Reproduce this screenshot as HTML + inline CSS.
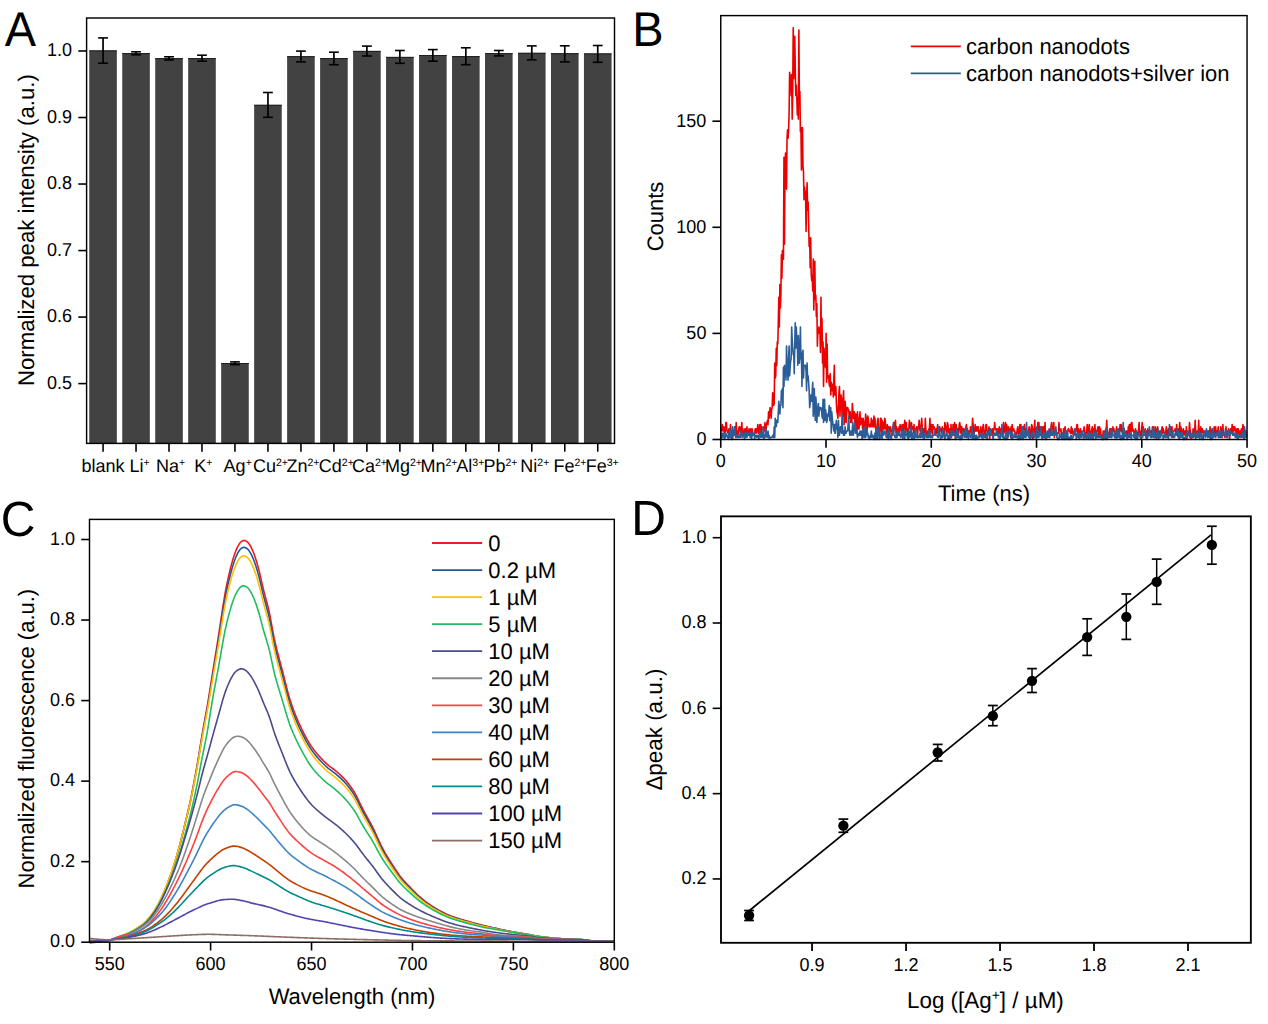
<!DOCTYPE html>
<html><head><meta charset="utf-8"><style>
html,body{margin:0;padding:0;background:#fff;overflow:hidden;}
svg{display:block;font-family:"Liberation Sans", sans-serif;}
text{fill:#000;text-rendering:geometricPrecision;}
</style></head><body>
<svg width="1268" height="1024" viewBox="0 0 1268 1024">
<rect width="1268" height="1024" fill="#fff"/>
<text transform="translate(4.8,45.8) scale(1,1.04)" font-size="47" text-anchor="start">A</text>
<rect x="89.25" y="50.4" width="27.6" height="393" fill="#424242"/>
<line x1="89.25" y1="50.9" x2="116.85" y2="50.9" stroke="#1e1e1e" stroke-width="1.0"/>
<rect x="122.23" y="53.1" width="27.6" height="390.3" fill="#424242"/>
<line x1="122.23" y1="53.6" x2="149.83" y2="53.6" stroke="#1e1e1e" stroke-width="1.0"/>
<rect x="155.21" y="58.1" width="27.6" height="385.3" fill="#424242"/>
<line x1="155.21" y1="58.6" x2="182.81" y2="58.6" stroke="#1e1e1e" stroke-width="1.0"/>
<rect x="188.19" y="58.1" width="27.6" height="385.3" fill="#424242"/>
<line x1="188.19" y1="58.6" x2="215.79" y2="58.6" stroke="#1e1e1e" stroke-width="1.0"/>
<rect x="221.17" y="363" width="27.6" height="80.4" fill="#424242"/>
<line x1="221.17" y1="363.5" x2="248.77" y2="363.5" stroke="#1e1e1e" stroke-width="1.0"/>
<rect x="254.15" y="104.8" width="27.6" height="338.6" fill="#424242"/>
<line x1="254.15" y1="105.3" x2="281.75" y2="105.3" stroke="#1e1e1e" stroke-width="1.0"/>
<rect x="287.13" y="56.2" width="27.6" height="387.2" fill="#424242"/>
<line x1="287.13" y1="56.7" x2="314.73" y2="56.7" stroke="#1e1e1e" stroke-width="1.0"/>
<rect x="320.11" y="58.1" width="27.6" height="385.3" fill="#424242"/>
<line x1="320.11" y1="58.6" x2="347.71" y2="58.6" stroke="#1e1e1e" stroke-width="1.0"/>
<rect x="353.09" y="50.9" width="27.6" height="392.5" fill="#424242"/>
<line x1="353.09" y1="51.4" x2="380.69" y2="51.4" stroke="#1e1e1e" stroke-width="1.0"/>
<rect x="386.07" y="56.9" width="27.6" height="386.5" fill="#424242"/>
<line x1="386.07" y1="57.4" x2="413.67" y2="57.4" stroke="#1e1e1e" stroke-width="1.0"/>
<rect x="419.05" y="55" width="27.6" height="388.4" fill="#424242"/>
<line x1="419.05" y1="55.5" x2="446.65" y2="55.5" stroke="#1e1e1e" stroke-width="1.0"/>
<rect x="452.03" y="56.1" width="27.6" height="387.3" fill="#424242"/>
<line x1="452.03" y1="56.6" x2="479.63" y2="56.6" stroke="#1e1e1e" stroke-width="1.0"/>
<rect x="485.01" y="53.1" width="27.6" height="390.3" fill="#424242"/>
<line x1="485.01" y1="53.6" x2="512.61" y2="53.6" stroke="#1e1e1e" stroke-width="1.0"/>
<rect x="517.99" y="52.8" width="27.6" height="390.6" fill="#424242"/>
<line x1="517.99" y1="53.3" x2="545.59" y2="53.3" stroke="#1e1e1e" stroke-width="1.0"/>
<rect x="550.97" y="53.2" width="27.6" height="390.2" fill="#424242"/>
<line x1="550.97" y1="53.7" x2="578.57" y2="53.7" stroke="#1e1e1e" stroke-width="1.0"/>
<rect x="583.95" y="53.4" width="27.6" height="390" fill="#424242"/>
<line x1="583.95" y1="53.9" x2="611.55" y2="53.9" stroke="#1e1e1e" stroke-width="1.0"/>
<line x1="103.05" y1="37.9" x2="103.05" y2="63.2" stroke="#000" stroke-width="1.7"/>
<line x1="98.15" y1="37.9" x2="107.95" y2="37.9" stroke="#000" stroke-width="1.6"/>
<line x1="98.15" y1="63.2" x2="107.95" y2="63.2" stroke="#000" stroke-width="1.6"/>
<line x1="103.05" y1="443.4" x2="103.05" y2="451.7" stroke="#000" stroke-width="1.6"/>
<line x1="136.03" y1="51.8" x2="136.03" y2="54.8" stroke="#000" stroke-width="1.7"/>
<line x1="131.13" y1="51.8" x2="140.93" y2="51.8" stroke="#000" stroke-width="1.6"/>
<line x1="131.13" y1="54.8" x2="140.93" y2="54.8" stroke="#000" stroke-width="1.6"/>
<line x1="136.03" y1="443.4" x2="136.03" y2="451.7" stroke="#000" stroke-width="1.6"/>
<line x1="169.01" y1="56.8" x2="169.01" y2="60" stroke="#000" stroke-width="1.7"/>
<line x1="164.11" y1="56.8" x2="173.91" y2="56.8" stroke="#000" stroke-width="1.6"/>
<line x1="164.11" y1="60" x2="173.91" y2="60" stroke="#000" stroke-width="1.6"/>
<line x1="169.01" y1="443.4" x2="169.01" y2="451.7" stroke="#000" stroke-width="1.6"/>
<line x1="201.99" y1="55.2" x2="201.99" y2="61.2" stroke="#000" stroke-width="1.7"/>
<line x1="197.09" y1="55.2" x2="206.89" y2="55.2" stroke="#000" stroke-width="1.6"/>
<line x1="197.09" y1="61.2" x2="206.89" y2="61.2" stroke="#000" stroke-width="1.6"/>
<line x1="201.99" y1="443.4" x2="201.99" y2="451.7" stroke="#000" stroke-width="1.6"/>
<line x1="234.97" y1="361.9" x2="234.97" y2="364.6" stroke="#000" stroke-width="1.7"/>
<line x1="230.07" y1="361.9" x2="239.87" y2="361.9" stroke="#000" stroke-width="1.6"/>
<line x1="230.07" y1="364.6" x2="239.87" y2="364.6" stroke="#000" stroke-width="1.6"/>
<line x1="234.97" y1="443.4" x2="234.97" y2="451.7" stroke="#000" stroke-width="1.6"/>
<line x1="267.95" y1="92.5" x2="267.95" y2="117.3" stroke="#000" stroke-width="1.7"/>
<line x1="263.05" y1="92.5" x2="272.85" y2="92.5" stroke="#000" stroke-width="1.6"/>
<line x1="263.05" y1="117.3" x2="272.85" y2="117.3" stroke="#000" stroke-width="1.6"/>
<line x1="267.95" y1="443.4" x2="267.95" y2="451.7" stroke="#000" stroke-width="1.6"/>
<line x1="300.93" y1="51.1" x2="300.93" y2="61.9" stroke="#000" stroke-width="1.7"/>
<line x1="296.03" y1="51.1" x2="305.83" y2="51.1" stroke="#000" stroke-width="1.6"/>
<line x1="296.03" y1="61.9" x2="305.83" y2="61.9" stroke="#000" stroke-width="1.6"/>
<line x1="300.93" y1="443.4" x2="300.93" y2="451.7" stroke="#000" stroke-width="1.6"/>
<line x1="333.91" y1="52.2" x2="333.91" y2="64.7" stroke="#000" stroke-width="1.7"/>
<line x1="329.01" y1="52.2" x2="338.81" y2="52.2" stroke="#000" stroke-width="1.6"/>
<line x1="329.01" y1="64.7" x2="338.81" y2="64.7" stroke="#000" stroke-width="1.6"/>
<line x1="333.91" y1="443.4" x2="333.91" y2="451.7" stroke="#000" stroke-width="1.6"/>
<line x1="366.89" y1="46.1" x2="366.89" y2="56" stroke="#000" stroke-width="1.7"/>
<line x1="361.99" y1="46.1" x2="371.79" y2="46.1" stroke="#000" stroke-width="1.6"/>
<line x1="361.99" y1="56" x2="371.79" y2="56" stroke="#000" stroke-width="1.6"/>
<line x1="366.89" y1="443.4" x2="366.89" y2="451.7" stroke="#000" stroke-width="1.6"/>
<line x1="399.87" y1="50.5" x2="399.87" y2="63.3" stroke="#000" stroke-width="1.7"/>
<line x1="394.97" y1="50.5" x2="404.77" y2="50.5" stroke="#000" stroke-width="1.6"/>
<line x1="394.97" y1="63.3" x2="404.77" y2="63.3" stroke="#000" stroke-width="1.6"/>
<line x1="399.87" y1="443.4" x2="399.87" y2="451.7" stroke="#000" stroke-width="1.6"/>
<line x1="432.85" y1="49.6" x2="432.85" y2="61.2" stroke="#000" stroke-width="1.7"/>
<line x1="427.95" y1="49.6" x2="437.75" y2="49.6" stroke="#000" stroke-width="1.6"/>
<line x1="427.95" y1="61.2" x2="437.75" y2="61.2" stroke="#000" stroke-width="1.6"/>
<line x1="432.85" y1="443.4" x2="432.85" y2="451.7" stroke="#000" stroke-width="1.6"/>
<line x1="465.83" y1="47.8" x2="465.83" y2="64.7" stroke="#000" stroke-width="1.7"/>
<line x1="460.93" y1="47.8" x2="470.73" y2="47.8" stroke="#000" stroke-width="1.6"/>
<line x1="460.93" y1="64.7" x2="470.73" y2="64.7" stroke="#000" stroke-width="1.6"/>
<line x1="465.83" y1="443.4" x2="465.83" y2="451.7" stroke="#000" stroke-width="1.6"/>
<line x1="498.81" y1="50.5" x2="498.81" y2="55.9" stroke="#000" stroke-width="1.7"/>
<line x1="493.91" y1="50.5" x2="503.71" y2="50.5" stroke="#000" stroke-width="1.6"/>
<line x1="493.91" y1="55.9" x2="503.71" y2="55.9" stroke="#000" stroke-width="1.6"/>
<line x1="498.81" y1="443.4" x2="498.81" y2="451.7" stroke="#000" stroke-width="1.6"/>
<line x1="531.79" y1="45.9" x2="531.79" y2="59.8" stroke="#000" stroke-width="1.7"/>
<line x1="526.89" y1="45.9" x2="536.69" y2="45.9" stroke="#000" stroke-width="1.6"/>
<line x1="526.89" y1="59.8" x2="536.69" y2="59.8" stroke="#000" stroke-width="1.6"/>
<line x1="531.79" y1="443.4" x2="531.79" y2="451.7" stroke="#000" stroke-width="1.6"/>
<line x1="564.77" y1="45.8" x2="564.77" y2="61.9" stroke="#000" stroke-width="1.7"/>
<line x1="559.87" y1="45.8" x2="569.67" y2="45.8" stroke="#000" stroke-width="1.6"/>
<line x1="559.87" y1="61.9" x2="569.67" y2="61.9" stroke="#000" stroke-width="1.6"/>
<line x1="564.77" y1="443.4" x2="564.77" y2="451.7" stroke="#000" stroke-width="1.6"/>
<line x1="597.75" y1="45.5" x2="597.75" y2="62.3" stroke="#000" stroke-width="1.7"/>
<line x1="592.85" y1="45.5" x2="602.65" y2="45.5" stroke="#000" stroke-width="1.6"/>
<line x1="592.85" y1="62.3" x2="602.65" y2="62.3" stroke="#000" stroke-width="1.6"/>
<line x1="597.75" y1="443.4" x2="597.75" y2="451.7" stroke="#000" stroke-width="1.6"/>
<rect x="86.6" y="18" width="527.9" height="425.4" fill="none" stroke="#000" stroke-width="1.45"/>
<line x1="78.3" y1="383.6" x2="86.6" y2="383.6" stroke="#000" stroke-width="1.6"/>
<text transform="translate(72.1,389) scale(1,1.04)" font-size="18" text-anchor="end">0.5</text>
<line x1="78.3" y1="317.08" x2="86.6" y2="317.08" stroke="#000" stroke-width="1.6"/>
<text transform="translate(72.1,322.48) scale(1,1.04)" font-size="18" text-anchor="end">0.6</text>
<line x1="78.3" y1="250.56" x2="86.6" y2="250.56" stroke="#000" stroke-width="1.6"/>
<text transform="translate(72.1,255.96) scale(1,1.04)" font-size="18" text-anchor="end">0.7</text>
<line x1="78.3" y1="184.04" x2="86.6" y2="184.04" stroke="#000" stroke-width="1.6"/>
<text transform="translate(72.1,189.44) scale(1,1.04)" font-size="18" text-anchor="end">0.8</text>
<line x1="78.3" y1="117.52" x2="86.6" y2="117.52" stroke="#000" stroke-width="1.6"/>
<text transform="translate(72.1,122.92) scale(1,1.04)" font-size="18" text-anchor="end">0.9</text>
<line x1="78.3" y1="51" x2="86.6" y2="51" stroke="#000" stroke-width="1.6"/>
<text transform="translate(72.1,56.4) scale(1,1.04)" font-size="18" text-anchor="end">1.0</text>
<text transform="translate(81.4,471.5) scale(1,1.02)" font-size="18" text-anchor="start">blank</text>
<text transform="translate(129.6,471.5) scale(1,1.02)" font-size="18">Li<tspan font-size="10.5" dy="-5.5">+</tspan></text>
<text transform="translate(155.9,471.5) scale(1,1.02)" font-size="18">Na<tspan font-size="10.5" dy="-5.5">+</tspan></text>
<text transform="translate(194.2,471.5) scale(1,1.02)" font-size="18">K<tspan font-size="10.5" dy="-5.5">+</tspan></text>
<text transform="translate(223.6,471.5) scale(1,1.02)" font-size="18">Ag<tspan font-size="10.5" dy="-5.5">+</tspan></text>
<text transform="translate(253,471.5) scale(1,1.02)" font-size="18">Cu<tspan font-size="10.5" dy="-5.5">2+</tspan></text>
<text transform="translate(286.4,471.5) scale(1,1.02)" font-size="18">Zn<tspan font-size="10.5" dy="-5.5">2+</tspan></text>
<text transform="translate(318.8,471.5) scale(1,1.02)" font-size="18">Cd<tspan font-size="10.5" dy="-5.5">2+</tspan></text>
<text transform="translate(351.9,471.5) scale(1,1.02)" font-size="18">Ca<tspan font-size="10.5" dy="-5.5">2+</tspan></text>
<text transform="translate(384.9,471.5) scale(1,1.02)" font-size="18">Mg<tspan font-size="10.5" dy="-5.5">2+</tspan></text>
<text transform="translate(420.5,471.5) scale(1,1.02)" font-size="18">Mn<tspan font-size="10.5" dy="-5.5">2+</tspan></text>
<text transform="translate(456.3,471.5) scale(1,1.02)" font-size="18">Al<tspan font-size="10.5" dy="-5.5">3+</tspan></text>
<text transform="translate(483.4,471.5) scale(1,1.02)" font-size="18">Pb<tspan font-size="10.5" dy="-5.5">2+</tspan></text>
<text transform="translate(520.3,471.5) scale(1,1.02)" font-size="18">Ni<tspan font-size="10.5" dy="-5.5">2+</tspan></text>
<text transform="translate(553.5,471.5) scale(1,1.02)" font-size="18">Fe<tspan font-size="10.5" dy="-5.5">2+</tspan></text>
<text transform="translate(585.7,471.5) scale(1,1.02)" font-size="18">Fe<tspan font-size="10.5" dy="-5.5">3+</tspan></text>
<text transform="translate(33.8,230.1) rotate(-90) scale(1,1.02)" font-size="22.2" text-anchor="middle">Normalized peak intensity (a.u.)</text>
<text transform="translate(632.3,45.8) scale(1,1.04)" font-size="47" text-anchor="start">B</text>
<polyline points="720.75,426.77 721.26,431.01 721.78,428.89 722.29,424.65 722.81,431.01 723.32,431.01 723.83,426.77 724.35,428.89 724.86,433.13 725.38,431.01 725.89,422.52 726.4,422.52 726.92,431.01 727.43,431.01 727.95,433.13 728.46,431.01 728.97,428.89 729.49,437.38 730,435.26 730.52,424.65 731.03,431.01 731.54,433.13 732.06,431.01 732.57,439.5 733.09,435.26 733.6,431.01 734.11,435.26 734.63,433.13 735.14,426.77 735.65,437.38 736.17,422.52 736.68,431.01 737.2,431.01 737.71,437.38 738.22,433.13 738.74,428.89 739.25,426.77 739.77,426.77 740.28,433.13 740.79,437.38 741.31,428.89 741.82,422.52 742.34,435.26 742.85,428.89 743.36,433.13 743.88,433.13 744.39,435.26 744.91,428.89 745.42,428.89 745.93,433.13 746.45,435.26 746.96,426.77 747.48,435.26 747.99,431.01 748.5,433.13 749.02,428.89 749.53,433.13 750.05,435.26 750.56,428.89 751.07,431.01 751.59,435.26 752.1,428.89 752.62,433.13 753.13,435.26 753.64,435.26 754.16,433.13 754.67,433.13 755.19,428.89 755.7,428.89 756.21,433.13 756.73,428.89 757.24,431.01 757.76,424.65 758.27,433.13 758.78,433.13 759.3,428.89 759.81,424.65 760.33,433.13 760.84,424.65 761.35,433.13 761.87,426.77 762.38,428.89 762.9,428.89 763.41,428.89 763.92,431.01 764.44,431.01 764.95,422.52 765.46,426.77 765.98,431.01 766.49,424.65 767.01,422.52 767.52,420.4 768.03,424.65 768.55,411.91 769.06,418.28 769.58,414.04 770.09,407.67 770.6,409.79 771.12,418.28 771.63,409.79 772.15,407.67 772.66,392.82 773.17,397.06 773.69,405.55 774.2,403.43 774.72,363.11 775.23,377.96 775.74,375.84 776.26,348.25 776.77,365.23 777.29,341.89 777.8,344.01 778.31,322.79 778.83,297.33 779.34,327.03 779.86,284.59 780.37,307.94 780.88,295.2 781.4,254.89 781.91,278.23 782.43,250.64 782.94,254.89 783.45,259.13 783.97,157.27 784.48,244.28 785,170.01 785.51,153.03 786.02,174.25 786.54,189.1 787.05,138.18 787.57,129.69 788.08,138.18 788.59,129.69 789.11,112.71 789.62,72.39 790.14,76.64 790.65,80.88 791.16,95.74 791.68,74.52 792.19,119.08 792.71,91.49 793.22,27.83 793.73,78.76 794.25,61.78 794.76,36.32 795.27,68.15 795.79,95.74 796.3,85.13 796.82,97.86 797.33,114.83 797.84,97.86 798.36,119.08 798.87,29.95 799.39,99.98 799.9,91.49 800.41,131.81 800.93,127.57 801.44,170.01 801.96,140.3 802.47,127.57 802.98,165.76 803.5,172.13 804.01,199.71 804.53,186.98 805.04,191.23 805.55,191.23 806.07,231.54 806.58,199.71 807.1,182.74 807.61,210.32 808.12,201.84 808.64,223.06 809.15,246.4 809.67,237.91 810.18,267.62 810.69,237.91 811.21,273.98 811.72,280.35 812.24,276.11 812.75,290.96 813.26,259.13 813.78,310.06 814.29,280.35 814.81,261.25 815.32,299.45 815.83,295.2 816.35,316.42 816.86,303.69 817.38,346.13 817.89,331.28 818.4,331.28 818.92,327.03 819.43,333.4 819.95,331.28 820.46,352.5 820.97,297.33 821.49,346.13 822,318.55 822.52,363.11 823.03,341.89 823.54,386.45 824.06,348.25 824.57,360.99 825.08,365.23 825.6,367.35 826.11,333.4 826.63,382.21 827.14,344.01 827.65,377.96 828.17,375.84 828.68,375.84 829.2,384.33 829.71,386.45 830.22,373.72 830.74,394.94 831.25,382.21 831.77,386.45 832.28,390.69 832.79,384.33 833.31,397.06 833.82,380.08 834.34,365.23 834.85,394.94 835.36,388.57 835.88,386.45 836.39,403.43 836.91,411.91 837.42,414.04 837.93,418.28 838.45,405.55 838.96,392.82 839.48,386.45 839.99,416.16 840.5,401.3 841.02,394.94 841.53,399.18 842.05,414.04 842.56,416.16 843.07,399.18 843.59,390.69 844.1,424.65 844.62,420.4 845.13,401.3 845.64,407.67 846.16,422.52 846.67,414.04 847.19,407.67 847.7,407.67 848.21,409.79 848.73,409.79 849.24,418.28 849.76,416.16 850.27,411.91 850.78,422.52 851.3,414.04 851.81,422.52 852.33,403.43 852.84,409.79 853.35,418.28 853.87,418.28 854.38,411.91 854.89,426.77 855.41,414.04 855.92,414.04 856.44,418.28 856.95,433.13 857.46,411.91 857.98,418.28 858.49,428.89 859.01,428.89 859.52,420.4 860.03,411.91 860.55,424.65 861.06,420.4 861.58,418.28 862.09,420.4 862.6,428.89 863.12,418.28 863.63,422.52 864.15,428.89 864.66,426.77 865.17,422.52 865.69,414.04 866.2,420.4 866.72,431.01 867.23,431.01 867.74,416.16 868.26,418.28 868.77,424.65 869.29,426.77 869.8,424.65 870.31,426.77 870.83,424.65 871.34,418.28 871.86,426.77 872.37,424.65 872.88,420.4 873.4,426.77 873.91,416.16 874.43,426.77 874.94,418.28 875.45,426.77 875.97,431.01 876.48,433.13 877,428.89 877.51,420.4 878.02,418.28 878.54,428.89 879.05,428.89 879.57,433.13 880.08,428.89 880.59,418.28 881.11,418.28 881.62,435.26 882.13,420.4 882.65,433.13 883.16,422.52 883.68,428.89 884.19,428.89 884.7,418.28 885.22,420.4 885.73,428.89 886.25,428.89 886.76,437.38 887.27,424.65 887.79,428.89 888.3,431.01 888.82,426.77 889.33,428.89 889.84,435.26 890.36,426.77 890.87,428.89 891.39,431.01 891.9,431.01 892.41,435.26 892.93,426.77 893.44,424.65 893.96,431.01 894.47,422.52 894.98,426.77 895.5,420.4 896.01,433.13 896.53,426.77 897.04,435.26 897.55,433.13 898.07,428.89 898.58,431.01 899.1,426.77 899.61,435.26 900.12,424.65 900.64,426.77 901.15,428.89 901.67,431.01 902.18,424.65 902.69,433.13 903.21,431.01 903.72,424.65 904.24,428.89 904.75,420.4 905.26,431.01 905.78,428.89 906.29,422.52 906.81,431.01 907.32,428.89 907.83,435.26 908.35,428.89 908.86,428.89 909.38,420.4 909.89,426.77 910.4,428.89 910.92,424.65 911.43,422.52 911.94,428.89 912.46,428.89 912.97,426.77 913.49,433.13 914,424.65 914.51,437.38 915.03,437.38 915.54,428.89 916.06,428.89 916.57,426.77 917.08,428.89 917.6,435.26 918.11,426.77 918.63,426.77 919.14,420.4 919.65,428.89 920.17,431.01 920.68,433.13 921.2,424.65 921.71,418.28 922.22,426.77 922.74,435.26 923.25,437.38 923.77,428.89 924.28,428.89 924.79,433.13 925.31,418.28 925.82,428.89 926.34,435.26 926.85,435.26 927.36,431.01 927.88,435.26 928.39,433.13 928.91,428.89 929.42,428.89 929.93,418.28 930.45,433.13 930.96,431.01 931.48,424.65 931.99,428.89 932.5,435.26 933.02,424.65 933.53,428.89 934.05,426.77 934.56,428.89 935.07,428.89 935.59,435.26 936.1,428.89 936.62,433.13 937.13,428.89 937.64,424.65 938.16,433.13 938.67,431.01 939.19,433.13 939.7,426.77 940.21,428.89 940.73,431.01 941.24,428.89 941.75,433.13 942.27,426.77 942.78,437.38 943.3,428.89 943.81,428.89 944.32,435.26 944.84,422.52 945.35,424.65 945.87,428.89 946.38,431.01 946.89,435.26 947.41,422.52 947.92,424.65 948.44,431.01 948.95,433.13 949.46,428.89 949.98,439.5 950.49,435.26 951.01,424.65 951.52,437.38 952.03,431.01 952.55,435.26 953.06,424.65 953.58,431.01 954.09,435.26 954.6,422.52 955.12,433.13 955.63,439.5 956.15,424.65 956.66,428.89 957.17,433.13 957.69,428.89 958.2,435.26 958.72,433.13 959.23,424.65 959.74,422.52 960.26,426.77 960.77,433.13 961.29,426.77 961.8,426.77 962.31,437.38 962.83,437.38 963.34,428.89 963.86,428.89 964.37,431.01 964.88,431.01 965.4,431.01 965.91,426.77 966.43,424.65 966.94,431.01 967.45,428.89 967.97,433.13 968.48,431.01 969,435.26 969.51,431.01 970.02,431.01 970.54,426.77 971.05,433.13 971.56,428.89 972.08,431.01 972.59,418.28 973.11,424.65 973.62,433.13 974.13,433.13 974.65,431.01 975.16,424.65 975.68,431.01 976.19,426.77 976.7,431.01 977.22,426.77 977.73,431.01 978.25,426.77 978.76,433.13 979.27,435.26 979.79,433.13 980.3,431.01 980.82,426.77 981.33,435.26 981.84,437.38 982.36,431.01 982.87,426.77 983.39,424.65 983.9,431.01 984.41,433.13 984.93,437.38 985.44,433.13 985.96,424.65 986.47,424.65 986.98,431.01 987.5,431.01 988.01,433.13 988.53,431.01 989.04,426.77 989.55,439.5 990.07,435.26 990.58,428.89 991.1,431.01 991.61,433.13 992.12,431.01 992.64,428.89 993.15,437.38 993.67,428.89 994.18,428.89 994.69,422.52 995.21,428.89 995.72,428.89 996.24,431.01 996.75,428.89 997.26,435.26 997.78,435.26 998.29,428.89 998.8,435.26 999.32,426.77 999.83,433.13 1000.35,433.13 1000.86,428.89 1001.37,433.13 1001.89,428.89 1002.4,435.26 1002.92,433.13 1003.43,422.52 1003.94,433.13 1004.46,431.01 1004.97,428.89 1005.49,422.52 1006,433.13 1006.51,424.65 1007.03,426.77 1007.54,428.89 1008.06,435.26 1008.57,426.77 1009.08,431.01 1009.6,433.13 1010.11,428.89 1010.63,437.38 1011.14,426.77 1011.65,435.26 1012.17,424.65 1012.68,431.01 1013.2,431.01 1013.71,428.89 1014.22,431.01 1014.74,431.01 1015.25,435.26 1015.77,437.38 1016.28,433.13 1016.79,433.13 1017.31,428.89 1017.82,426.77 1018.34,435.26 1018.85,431.01 1019.36,433.13 1019.88,424.65 1020.39,433.13 1020.91,424.65 1021.42,431.01 1021.93,433.13 1022.45,437.38 1022.96,428.89 1023.48,426.77 1023.99,428.89 1024.5,424.65 1025.02,433.13 1025.53,435.26 1026.05,428.89 1026.56,433.13 1027.07,433.13 1027.59,435.26 1028.1,435.26 1028.61,431.01 1029.13,426.77 1029.64,431.01 1030.16,435.26 1030.67,435.26 1031.18,428.89 1031.7,424.65 1032.21,426.77 1032.73,439.5 1033.24,437.38 1033.75,428.89 1034.27,428.89 1034.78,420.4 1035.3,435.26 1035.81,435.26 1036.32,428.89 1036.84,433.13 1037.35,435.26 1037.87,422.52 1038.38,422.52 1038.89,422.52 1039.41,435.26 1039.92,426.77 1040.44,433.13 1040.95,431.01 1041.46,426.77 1041.98,426.77 1042.49,435.26 1043.01,433.13 1043.52,426.77 1044.03,426.77 1044.55,435.26 1045.06,422.52 1045.58,439.5 1046.09,433.13 1046.6,435.26 1047.12,435.26 1047.63,433.13 1048.15,435.26 1048.66,435.26 1049.17,428.89 1049.69,431.01 1050.2,433.13 1050.72,433.13 1051.23,424.65 1051.74,422.52 1052.26,428.89 1052.77,426.77 1053.29,433.13 1053.8,422.52 1054.31,437.38 1054.83,431.01 1055.34,433.13 1055.86,431.01 1056.37,433.13 1056.88,435.26 1057.4,433.13 1057.91,433.13 1058.42,433.13 1058.94,422.52 1059.45,431.01 1059.97,431.01 1060.48,431.01 1060.99,428.89 1061.51,437.38 1062.02,433.13 1062.54,437.38 1063.05,435.26 1063.56,428.89 1064.08,435.26 1064.59,428.89 1065.11,426.77 1065.62,435.26 1066.13,433.13 1066.65,431.01 1067.16,435.26 1067.68,431.01 1068.19,428.89 1068.7,428.89 1069.22,431.01 1069.73,431.01 1070.25,433.13 1070.76,433.13 1071.27,426.77 1071.79,433.13 1072.3,428.89 1072.82,433.13 1073.33,435.26 1073.84,431.01 1074.36,433.13 1074.87,433.13 1075.39,428.89 1075.9,428.89 1076.41,431.01 1076.93,424.65 1077.44,424.65 1077.96,435.26 1078.47,428.89 1078.98,431.01 1079.5,431.01 1080.01,435.26 1080.53,428.89 1081.04,431.01 1081.55,437.38 1082.07,433.13 1082.58,433.13 1083.1,431.01 1083.61,431.01 1084.12,426.77 1084.64,431.01 1085.15,435.26 1085.67,437.38 1086.18,433.13 1086.69,431.01 1087.21,424.65 1087.72,433.13 1088.23,431.01 1088.75,428.89 1089.26,424.65 1089.78,435.26 1090.29,433.13 1090.8,433.13 1091.32,431.01 1091.83,428.89 1092.35,426.77 1092.86,435.26 1093.37,428.89 1093.89,435.26 1094.4,435.26 1094.92,424.65 1095.43,435.26 1095.94,431.01 1096.46,433.13 1096.97,431.01 1097.49,428.89 1098,426.77 1098.51,431.01 1099.03,437.38 1099.54,426.77 1100.06,428.89 1100.57,428.89 1101.08,437.38 1101.6,435.26 1102.11,437.38 1102.63,439.5 1103.14,431.01 1103.65,437.38 1104.17,431.01 1104.68,437.38 1105.2,435.26 1105.71,428.89 1106.22,431.01 1106.74,420.4 1107.25,433.13 1107.77,433.13 1108.28,435.26 1108.79,437.38 1109.31,431.01 1109.82,428.89 1110.34,435.26 1110.85,428.89 1111.36,433.13 1111.88,428.89 1112.39,431.01 1112.91,426.77 1113.42,431.01 1113.93,428.89 1114.45,433.13 1114.96,433.13 1115.47,435.26 1115.99,433.13 1116.5,426.77 1117.02,433.13 1117.53,431.01 1118.04,433.13 1118.56,428.89 1119.07,431.01 1119.59,431.01 1120.1,424.65 1120.61,431.01 1121.13,424.65 1121.64,428.89 1122.16,433.13 1122.67,428.89 1123.18,433.13 1123.7,439.5 1124.21,428.89 1124.73,433.13 1125.24,435.26 1125.75,435.26 1126.27,431.01 1126.78,431.01 1127.3,433.13 1127.81,435.26 1128.32,426.77 1128.84,433.13 1129.35,424.65 1129.87,431.01 1130.38,424.65 1130.89,435.26 1131.41,422.52 1131.92,422.52 1132.44,431.01 1132.95,428.89 1133.46,431.01 1133.98,433.13 1134.49,437.38 1135.01,431.01 1135.52,428.89 1136.03,439.5 1136.55,431.01 1137.06,435.26 1137.58,435.26 1138.09,435.26 1138.6,428.89 1139.12,422.52 1139.63,435.26 1140.15,431.01 1140.66,433.13 1141.17,439.5 1141.69,428.89 1142.2,422.52 1142.72,431.01 1143.23,426.77 1143.74,433.13 1144.26,433.13 1144.77,433.13 1145.28,428.89 1145.8,437.38 1146.31,431.01 1146.83,437.38 1147.34,435.26 1147.85,428.89 1148.37,435.26 1148.88,431.01 1149.4,433.13 1149.91,431.01 1150.42,431.01 1150.94,431.01 1151.45,435.26 1151.97,431.01 1152.48,426.77 1152.99,431.01 1153.51,437.38 1154.02,431.01 1154.54,437.38 1155.05,426.77 1155.56,428.89 1156.08,433.13 1156.59,439.5 1157.11,428.89 1157.62,426.77 1158.13,433.13 1158.65,437.38 1159.16,431.01 1159.68,435.26 1160.19,431.01 1160.7,433.13 1161.22,431.01 1161.73,428.89 1162.25,426.77 1162.76,433.13 1163.27,428.89 1163.79,431.01 1164.3,433.13 1164.82,435.26 1165.33,437.38 1165.84,431.01 1166.36,426.77 1166.87,433.13 1167.39,435.26 1167.9,433.13 1168.41,428.89 1168.93,435.26 1169.44,433.13 1169.96,435.26 1170.47,426.77 1170.98,435.26 1171.5,433.13 1172.01,426.77 1172.53,437.38 1173.04,431.01 1173.55,431.01 1174.07,431.01 1174.58,431.01 1175.09,428.89 1175.61,428.89 1176.12,435.26 1176.64,424.65 1177.15,433.13 1177.66,435.26 1178.18,437.38 1178.69,428.89 1179.21,431.01 1179.72,422.52 1180.23,433.13 1180.75,426.77 1181.26,428.89 1181.78,433.13 1182.29,433.13 1182.8,431.01 1183.32,428.89 1183.83,435.26 1184.35,433.13 1184.86,431.01 1185.37,431.01 1185.89,437.38 1186.4,426.77 1186.92,439.5 1187.43,433.13 1187.94,433.13 1188.46,435.26 1188.97,433.13 1189.49,422.52 1190,428.89 1190.51,433.13 1191.03,439.5 1191.54,435.26 1192.06,437.38 1192.57,437.38 1193.08,428.89 1193.6,431.01 1194.11,433.13 1194.63,433.13 1195.14,420.4 1195.65,431.01 1196.17,433.13 1196.68,433.13 1197.2,431.01 1197.71,431.01 1198.22,435.26 1198.74,420.4 1199.25,437.38 1199.77,433.13 1200.28,433.13 1200.79,426.77 1201.31,433.13 1201.82,431.01 1202.34,428.89 1202.85,431.01 1203.36,435.26 1203.88,431.01 1204.39,431.01 1204.9,433.13 1205.42,431.01 1205.93,431.01 1206.45,435.26 1206.96,435.26 1207.47,431.01 1207.99,433.13 1208.5,431.01 1209.02,431.01 1209.53,435.26 1210.04,426.77 1210.56,435.26 1211.07,437.38 1211.59,431.01 1212.1,428.89 1212.61,435.26 1213.13,433.13 1213.64,435.26 1214.16,426.77 1214.67,428.89 1215.18,433.13 1215.7,426.77 1216.21,435.26 1216.73,431.01 1217.24,435.26 1217.75,431.01 1218.27,426.77 1218.78,435.26 1219.3,433.13 1219.81,437.38 1220.32,435.26 1220.84,426.77 1221.35,431.01 1221.87,435.26 1222.38,437.38 1222.89,424.65 1223.41,435.26 1223.92,433.13 1224.44,433.13 1224.95,437.38 1225.46,433.13 1225.98,426.77 1226.49,435.26 1227.01,431.01 1227.52,435.26 1228.03,435.26 1228.55,428.89 1229.06,433.13 1229.58,439.5 1230.09,433.13 1230.6,428.89 1231.12,433.13 1231.63,431.01 1232.15,424.65 1232.66,435.26 1233.17,426.77 1233.69,431.01 1234.2,426.77 1234.71,426.77 1235.23,431.01 1235.74,428.89 1236.26,437.38 1236.77,435.26 1237.28,428.89 1237.8,435.26 1238.31,428.89 1238.83,433.13 1239.34,431.01 1239.85,435.26 1240.37,431.01 1240.88,437.38 1241.4,428.89 1241.91,435.26 1242.42,433.13 1242.94,424.65 1243.45,426.77 1243.97,435.26 1244.48,428.89 1244.99,437.38 1245.51,433.13 1246.02,431.01 1246.54,437.38" fill="none" stroke="#EE0000" stroke-width="1.6" stroke-linejoin="round"/>
<polyline points="720.75,437.38 721.26,439.5 721.78,433.13 722.29,437.38 722.81,437.38 723.32,433.13 723.83,433.13 724.35,439.5 724.86,437.38 725.38,437.38 725.89,433.13 726.4,435.26 726.92,435.26 727.43,437.38 727.95,435.26 728.46,439.5 728.97,433.13 729.49,433.13 730,428.89 730.52,437.38 731.03,433.13 731.54,439.5 732.06,437.38 732.57,426.77 733.09,435.26 733.6,435.26 734.11,435.26 734.63,426.77 735.14,435.26 735.65,433.13 736.17,437.38 736.68,437.38 737.2,435.26 737.71,437.38 738.22,437.38 738.74,437.38 739.25,435.26 739.77,437.38 740.28,435.26 740.79,431.01 741.31,433.13 741.82,433.13 742.34,437.38 742.85,435.26 743.36,435.26 743.88,433.13 744.39,439.5 744.91,433.13 745.42,437.38 745.93,433.13 746.45,433.13 746.96,437.38 747.48,435.26 747.99,433.13 748.5,435.26 749.02,433.13 749.53,433.13 750.05,437.38 750.56,437.38 751.07,433.13 751.59,439.5 752.1,435.26 752.62,433.13 753.13,435.26 753.64,435.26 754.16,433.13 754.67,439.5 755.19,435.26 755.7,435.26 756.21,435.26 756.73,437.38 757.24,435.26 757.76,435.26 758.27,437.38 758.78,439.5 759.3,435.26 759.81,431.01 760.33,435.26 760.84,437.38 761.35,435.26 761.87,433.13 762.38,437.38 762.9,433.13 763.41,426.77 763.92,439.5 764.44,435.26 764.95,437.38 765.46,435.26 765.98,428.89 766.49,435.26 767.01,437.38 767.52,435.26 768.03,431.01 768.55,437.38 769.06,435.26 769.58,439.5 770.09,437.38 770.6,437.38 771.12,437.38 771.63,437.38 772.15,437.38 772.66,435.26 773.17,435.26 773.69,437.38 774.2,426.77 774.72,437.38 775.23,418.28 775.74,422.52 776.26,426.77 776.77,420.4 777.29,420.4 777.8,422.52 778.31,411.91 778.83,401.3 779.34,407.67 779.86,414.04 780.37,405.55 780.88,405.55 781.4,390.69 781.91,394.94 782.43,388.57 782.94,407.67 783.45,367.35 783.97,386.45 784.48,365.23 785,375.84 785.51,367.35 786.02,380.08 786.54,346.13 787.05,363.11 787.57,371.6 788.08,380.08 788.59,358.86 789.11,346.13 789.62,375.84 790.14,367.35 790.65,360.99 791.16,358.86 791.68,327.03 792.19,339.77 792.71,348.25 793.22,354.62 793.73,352.5 794.25,373.72 794.76,344.01 795.27,322.79 795.79,348.25 796.3,327.03 796.82,339.77 797.33,341.89 797.84,365.23 798.36,335.52 798.87,352.5 799.39,363.11 799.9,354.62 800.41,327.03 800.93,358.86 801.44,354.62 801.96,386.45 802.47,352.5 802.98,350.38 803.5,377.96 804.01,365.23 804.53,365.23 805.04,365.23 805.55,365.23 806.07,371.6 806.58,390.69 807.1,363.11 807.61,380.08 808.12,375.84 808.64,382.21 809.15,390.69 809.67,407.67 810.18,403.43 810.69,394.94 811.21,399.18 811.72,401.3 812.24,390.69 812.75,382.21 813.26,416.16 813.78,405.55 814.29,388.57 814.81,409.79 815.32,420.4 815.83,397.06 816.35,405.55 816.86,422.52 817.38,411.91 817.89,407.67 818.4,403.43 818.92,416.16 819.43,407.67 819.95,409.79 820.46,407.67 820.97,407.67 821.49,409.79 822,416.16 822.52,418.28 823.03,399.18 823.54,422.52 824.06,411.91 824.57,399.18 825.08,420.4 825.6,409.79 826.11,414.04 826.63,422.52 827.14,420.4 827.65,414.04 828.17,416.16 828.68,414.04 829.2,405.55 829.71,420.4 830.22,418.28 830.74,407.67 831.25,433.13 831.77,411.91 832.28,418.28 832.79,422.52 833.31,426.77 833.82,431.01 834.34,424.65 834.85,433.13 835.36,433.13 835.88,424.65 836.39,420.4 836.91,428.89 837.42,426.77 837.93,437.38 838.45,420.4 838.96,433.13 839.48,435.26 839.99,428.89 840.5,426.77 841.02,426.77 841.53,433.13 842.05,414.04 842.56,426.77 843.07,433.13 843.59,435.26 844.1,431.01 844.62,435.26 845.13,426.77 845.64,433.13 846.16,433.13 846.67,431.01 847.19,431.01 847.7,431.01 848.21,422.52 848.73,416.16 849.24,428.89 849.76,435.26 850.27,435.26 850.78,431.01 851.3,431.01 851.81,435.26 852.33,428.89 852.84,422.52 853.35,435.26 853.87,428.89 854.38,428.89 854.89,422.52 855.41,433.13 855.92,431.01 856.44,428.89 856.95,433.13 857.46,437.38 857.98,435.26 858.49,435.26 859.01,433.13 859.52,435.26 860.03,431.01 860.55,435.26 861.06,431.01 861.58,431.01 862.09,439.5 862.6,437.38 863.12,428.89 863.63,435.26 864.15,437.38 864.66,431.01 865.17,426.77 865.69,437.38 866.2,435.26 866.72,428.89 867.23,433.13 867.74,433.13 868.26,437.38 868.77,435.26 869.29,439.5 869.8,437.38 870.31,437.38 870.83,435.26 871.34,431.01 871.86,437.38 872.37,435.26 872.88,435.26 873.4,437.38 873.91,439.5 874.43,437.38 874.94,433.13 875.45,439.5 875.97,428.89 876.48,433.13 877,439.5 877.51,439.5 878.02,428.89 878.54,426.77 879.05,431.01 879.57,439.5 880.08,437.38 880.59,437.38 881.11,433.13 881.62,435.26 882.13,439.5 882.65,431.01 883.16,433.13 883.68,435.26 884.19,433.13 884.7,431.01 885.22,433.13 885.73,433.13 886.25,437.38 886.76,435.26 887.27,433.13 887.79,437.38 888.3,439.5 888.82,428.89 889.33,437.38 889.84,437.38 890.36,435.26 890.87,437.38 891.39,439.5 891.9,433.13 892.41,433.13 892.93,433.13 893.44,422.52 893.96,435.26 894.47,435.26 894.98,437.38 895.5,435.26 896.01,437.38 896.53,433.13 897.04,437.38 897.55,431.01 898.07,433.13 898.58,435.26 899.1,433.13 899.61,433.13 900.12,435.26 900.64,437.38 901.15,435.26 901.67,435.26 902.18,428.89 902.69,439.5 903.21,435.26 903.72,435.26 904.24,431.01 904.75,439.5 905.26,431.01 905.78,431.01 906.29,435.26 906.81,435.26 907.32,437.38 907.83,435.26 908.35,439.5 908.86,431.01 909.38,431.01 909.89,437.38 910.4,435.26 910.92,426.77 911.43,435.26 911.94,439.5 912.46,433.13 912.97,435.26 913.49,437.38 914,439.5 914.51,437.38 915.03,431.01 915.54,428.89 916.06,435.26 916.57,437.38 917.08,437.38 917.6,435.26 918.11,437.38 918.63,437.38 919.14,437.38 919.65,435.26 920.17,433.13 920.68,437.38 921.2,428.89 921.71,426.77 922.22,437.38 922.74,437.38 923.25,437.38 923.77,435.26 924.28,439.5 924.79,433.13 925.31,433.13 925.82,435.26 926.34,437.38 926.85,435.26 927.36,437.38 927.88,437.38 928.39,431.01 928.91,437.38 929.42,431.01 929.93,433.13 930.45,437.38 930.96,437.38 931.48,437.38 931.99,435.26 932.5,437.38 933.02,435.26 933.53,435.26 934.05,435.26 934.56,431.01 935.07,433.13 935.59,435.26 936.1,435.26 936.62,435.26 937.13,435.26 937.64,437.38 938.16,437.38 938.67,426.77 939.19,435.26 939.7,431.01 940.21,437.38 940.73,439.5 941.24,435.26 941.75,435.26 942.27,437.38 942.78,433.13 943.3,428.89 943.81,433.13 944.32,435.26 944.84,439.5 945.35,437.38 945.87,435.26 946.38,433.13 946.89,435.26 947.41,435.26 947.92,439.5 948.44,435.26 948.95,437.38 949.46,439.5 949.98,435.26 950.49,437.38 951.01,431.01 951.52,435.26 952.03,431.01 952.55,431.01 953.06,435.26 953.58,433.13 954.09,433.13 954.6,433.13 955.12,435.26 955.63,439.5 956.15,435.26 956.66,428.89 957.17,437.38 957.69,431.01 958.2,437.38 958.72,435.26 959.23,437.38 959.74,439.5 960.26,439.5 960.77,435.26 961.29,439.5 961.8,439.5 962.31,431.01 962.83,433.13 963.34,433.13 963.86,435.26 964.37,433.13 964.88,437.38 965.4,428.89 965.91,433.13 966.43,437.38 966.94,428.89 967.45,437.38 967.97,433.13 968.48,439.5 969,433.13 969.51,433.13 970.02,435.26 970.54,437.38 971.05,435.26 971.56,437.38 972.08,426.77 972.59,439.5 973.11,435.26 973.62,437.38 974.13,433.13 974.65,439.5 975.16,435.26 975.68,439.5 976.19,437.38 976.7,435.26 977.22,439.5 977.73,437.38 978.25,437.38 978.76,437.38 979.27,435.26 979.79,437.38 980.3,435.26 980.82,435.26 981.33,433.13 981.84,437.38 982.36,437.38 982.87,439.5 983.39,433.13 983.9,435.26 984.41,435.26 984.93,437.38 985.44,435.26 985.96,437.38 986.47,433.13 986.98,439.5 987.5,433.13 988.01,435.26 988.53,431.01 989.04,433.13 989.55,435.26 990.07,431.01 990.58,428.89 991.1,435.26 991.61,435.26 992.12,435.26 992.64,435.26 993.15,439.5 993.67,435.26 994.18,433.13 994.69,435.26 995.21,435.26 995.72,433.13 996.24,435.26 996.75,431.01 997.26,431.01 997.78,433.13 998.29,437.38 998.8,435.26 999.32,437.38 999.83,439.5 1000.35,437.38 1000.86,433.13 1001.37,435.26 1001.89,424.65 1002.4,437.38 1002.92,435.26 1003.43,433.13 1003.94,439.5 1004.46,437.38 1004.97,437.38 1005.49,439.5 1006,433.13 1006.51,435.26 1007.03,439.5 1007.54,431.01 1008.06,437.38 1008.57,435.26 1009.08,433.13 1009.6,431.01 1010.11,431.01 1010.63,433.13 1011.14,435.26 1011.65,439.5 1012.17,439.5 1012.68,433.13 1013.2,437.38 1013.71,437.38 1014.22,437.38 1014.74,435.26 1015.25,433.13 1015.77,435.26 1016.28,437.38 1016.79,435.26 1017.31,437.38 1017.82,437.38 1018.34,439.5 1018.85,435.26 1019.36,439.5 1019.88,437.38 1020.39,433.13 1020.91,439.5 1021.42,437.38 1021.93,428.89 1022.45,426.77 1022.96,439.5 1023.48,437.38 1023.99,433.13 1024.5,431.01 1025.02,437.38 1025.53,437.38 1026.05,437.38 1026.56,422.52 1027.07,435.26 1027.59,431.01 1028.1,435.26 1028.61,437.38 1029.13,431.01 1029.64,437.38 1030.16,439.5 1030.67,435.26 1031.18,435.26 1031.7,437.38 1032.21,433.13 1032.73,435.26 1033.24,431.01 1033.75,435.26 1034.27,437.38 1034.78,435.26 1035.3,435.26 1035.81,435.26 1036.32,439.5 1036.84,426.77 1037.35,437.38 1037.87,435.26 1038.38,431.01 1038.89,437.38 1039.41,433.13 1039.92,435.26 1040.44,435.26 1040.95,426.77 1041.46,437.38 1041.98,437.38 1042.49,439.5 1043.01,435.26 1043.52,433.13 1044.03,437.38 1044.55,433.13 1045.06,437.38 1045.58,437.38 1046.09,439.5 1046.6,435.26 1047.12,431.01 1047.63,437.38 1048.15,431.01 1048.66,433.13 1049.17,437.38 1049.69,437.38 1050.2,435.26 1050.72,435.26 1051.23,426.77 1051.74,435.26 1052.26,435.26 1052.77,435.26 1053.29,431.01 1053.8,433.13 1054.31,435.26 1054.83,435.26 1055.34,433.13 1055.86,426.77 1056.37,433.13 1056.88,437.38 1057.4,437.38 1057.91,439.5 1058.42,439.5 1058.94,439.5 1059.45,433.13 1059.97,435.26 1060.48,437.38 1060.99,437.38 1061.51,437.38 1062.02,439.5 1062.54,433.13 1063.05,433.13 1063.56,439.5 1064.08,437.38 1064.59,439.5 1065.11,431.01 1065.62,437.38 1066.13,439.5 1066.65,439.5 1067.16,431.01 1067.68,433.13 1068.19,439.5 1068.7,439.5 1069.22,437.38 1069.73,439.5 1070.25,439.5 1070.76,435.26 1071.27,435.26 1071.79,439.5 1072.3,437.38 1072.82,437.38 1073.33,437.38 1073.84,431.01 1074.36,435.26 1074.87,428.89 1075.39,431.01 1075.9,435.26 1076.41,439.5 1076.93,435.26 1077.44,433.13 1077.96,437.38 1078.47,435.26 1078.98,435.26 1079.5,439.5 1080.01,433.13 1080.53,435.26 1081.04,437.38 1081.55,433.13 1082.07,431.01 1082.58,433.13 1083.1,435.26 1083.61,439.5 1084.12,437.38 1084.64,433.13 1085.15,435.26 1085.67,437.38 1086.18,435.26 1086.69,439.5 1087.21,435.26 1087.72,435.26 1088.23,433.13 1088.75,439.5 1089.26,433.13 1089.78,433.13 1090.29,435.26 1090.8,439.5 1091.32,433.13 1091.83,437.38 1092.35,435.26 1092.86,439.5 1093.37,437.38 1093.89,431.01 1094.4,431.01 1094.92,433.13 1095.43,437.38 1095.94,439.5 1096.46,433.13 1096.97,433.13 1097.49,437.38 1098,435.26 1098.51,437.38 1099.03,437.38 1099.54,435.26 1100.06,437.38 1100.57,435.26 1101.08,437.38 1101.6,437.38 1102.11,439.5 1102.63,437.38 1103.14,439.5 1103.65,437.38 1104.17,433.13 1104.68,435.26 1105.2,439.5 1105.71,431.01 1106.22,428.89 1106.74,439.5 1107.25,439.5 1107.77,433.13 1108.28,435.26 1108.79,435.26 1109.31,437.38 1109.82,435.26 1110.34,435.26 1110.85,437.38 1111.36,428.89 1111.88,437.38 1112.39,431.01 1112.91,435.26 1113.42,435.26 1113.93,435.26 1114.45,437.38 1114.96,433.13 1115.47,437.38 1115.99,431.01 1116.5,439.5 1117.02,431.01 1117.53,437.38 1118.04,428.89 1118.56,433.13 1119.07,437.38 1119.59,431.01 1120.1,437.38 1120.61,439.5 1121.13,439.5 1121.64,435.26 1122.16,435.26 1122.67,439.5 1123.18,422.52 1123.7,431.01 1124.21,428.89 1124.73,437.38 1125.24,435.26 1125.75,433.13 1126.27,435.26 1126.78,437.38 1127.3,439.5 1127.81,435.26 1128.32,437.38 1128.84,435.26 1129.35,433.13 1129.87,437.38 1130.38,435.26 1130.89,433.13 1131.41,439.5 1131.92,435.26 1132.44,435.26 1132.95,435.26 1133.46,435.26 1133.98,437.38 1134.49,433.13 1135.01,435.26 1135.52,439.5 1136.03,431.01 1136.55,433.13 1137.06,437.38 1137.58,439.5 1138.09,435.26 1138.6,435.26 1139.12,433.13 1139.63,435.26 1140.15,437.38 1140.66,437.38 1141.17,437.38 1141.69,437.38 1142.2,437.38 1142.72,437.38 1143.23,428.89 1143.74,435.26 1144.26,435.26 1144.77,435.26 1145.28,431.01 1145.8,433.13 1146.31,437.38 1146.83,439.5 1147.34,437.38 1147.85,437.38 1148.37,433.13 1148.88,435.26 1149.4,426.77 1149.91,433.13 1150.42,437.38 1150.94,437.38 1151.45,435.26 1151.97,437.38 1152.48,433.13 1152.99,431.01 1153.51,426.77 1154.02,437.38 1154.54,433.13 1155.05,437.38 1155.56,437.38 1156.08,437.38 1156.59,433.13 1157.11,437.38 1157.62,435.26 1158.13,428.89 1158.65,439.5 1159.16,435.26 1159.68,435.26 1160.19,437.38 1160.7,437.38 1161.22,431.01 1161.73,435.26 1162.25,435.26 1162.76,435.26 1163.27,439.5 1163.79,435.26 1164.3,435.26 1164.82,433.13 1165.33,437.38 1165.84,435.26 1166.36,435.26 1166.87,437.38 1167.39,435.26 1167.9,435.26 1168.41,439.5 1168.93,435.26 1169.44,424.65 1169.96,431.01 1170.47,433.13 1170.98,433.13 1171.5,437.38 1172.01,431.01 1172.53,433.13 1173.04,435.26 1173.55,437.38 1174.07,437.38 1174.58,437.38 1175.09,433.13 1175.61,435.26 1176.12,435.26 1176.64,435.26 1177.15,428.89 1177.66,431.01 1178.18,431.01 1178.69,435.26 1179.21,439.5 1179.72,433.13 1180.23,437.38 1180.75,433.13 1181.26,437.38 1181.78,435.26 1182.29,433.13 1182.8,437.38 1183.32,439.5 1183.83,437.38 1184.35,439.5 1184.86,439.5 1185.37,437.38 1185.89,435.26 1186.4,437.38 1186.92,433.13 1187.43,431.01 1187.94,433.13 1188.46,431.01 1188.97,433.13 1189.49,437.38 1190,435.26 1190.51,435.26 1191.03,433.13 1191.54,437.38 1192.06,437.38 1192.57,437.38 1193.08,433.13 1193.6,437.38 1194.11,435.26 1194.63,435.26 1195.14,431.01 1195.65,439.5 1196.17,435.26 1196.68,435.26 1197.2,437.38 1197.71,433.13 1198.22,433.13 1198.74,437.38 1199.25,431.01 1199.77,439.5 1200.28,435.26 1200.79,433.13 1201.31,435.26 1201.82,437.38 1202.34,439.5 1202.85,435.26 1203.36,439.5 1203.88,431.01 1204.39,433.13 1204.9,435.26 1205.42,437.38 1205.93,433.13 1206.45,428.89 1206.96,433.13 1207.47,437.38 1207.99,437.38 1208.5,431.01 1209.02,433.13 1209.53,437.38 1210.04,435.26 1210.56,439.5 1211.07,433.13 1211.59,439.5 1212.1,437.38 1212.61,428.89 1213.13,437.38 1213.64,437.38 1214.16,435.26 1214.67,433.13 1215.18,435.26 1215.7,437.38 1216.21,435.26 1216.73,433.13 1217.24,433.13 1217.75,433.13 1218.27,437.38 1218.78,431.01 1219.3,431.01 1219.81,435.26 1220.32,437.38 1220.84,431.01 1221.35,433.13 1221.87,437.38 1222.38,431.01 1222.89,433.13 1223.41,433.13 1223.92,435.26 1224.44,435.26 1224.95,435.26 1225.46,428.89 1225.98,433.13 1226.49,437.38 1227.01,435.26 1227.52,437.38 1228.03,431.01 1228.55,435.26 1229.06,435.26 1229.58,431.01 1230.09,435.26 1230.6,431.01 1231.12,433.13 1231.63,433.13 1232.15,433.13 1232.66,435.26 1233.17,433.13 1233.69,435.26 1234.2,435.26 1234.71,433.13 1235.23,437.38 1235.74,437.38 1236.26,435.26 1236.77,437.38 1237.28,433.13 1237.8,439.5 1238.31,437.38 1238.83,435.26 1239.34,437.38 1239.85,435.26 1240.37,435.26 1240.88,435.26 1241.4,437.38 1241.91,431.01 1242.42,435.26 1242.94,437.38 1243.45,435.26 1243.97,439.5 1244.48,426.77 1244.99,437.38 1245.51,431.01 1246.02,437.38 1246.54,433.13" fill="none" stroke="#2B5E98" stroke-width="1.6" stroke-linejoin="round"/>
<rect x="720.75" y="15.6" width="526.3" height="423.9" fill="none" stroke="#000" stroke-width="1.45"/>
<line x1="712.45" y1="439.5" x2="720.75" y2="439.5" stroke="#000" stroke-width="1.6"/>
<text transform="translate(706.4,444.8) scale(1,1.04)" font-size="18" text-anchor="end">0</text>
<line x1="712.45" y1="333.4" x2="720.75" y2="333.4" stroke="#000" stroke-width="1.6"/>
<text transform="translate(706.4,338.7) scale(1,1.04)" font-size="18" text-anchor="end">50</text>
<line x1="712.45" y1="227.3" x2="720.75" y2="227.3" stroke="#000" stroke-width="1.6"/>
<text transform="translate(706.4,232.6) scale(1,1.04)" font-size="18" text-anchor="end">100</text>
<line x1="712.45" y1="121.2" x2="720.75" y2="121.2" stroke="#000" stroke-width="1.6"/>
<text transform="translate(706.4,126.5) scale(1,1.04)" font-size="18" text-anchor="end">150</text>
<line x1="720.75" y1="439.5" x2="720.75" y2="447.8" stroke="#000" stroke-width="1.6"/>
<text transform="translate(720.75,467.3) scale(1,1.04)" font-size="18" text-anchor="middle">0</text>
<line x1="826.01" y1="439.5" x2="826.01" y2="447.8" stroke="#000" stroke-width="1.6"/>
<text transform="translate(826.01,467.3) scale(1,1.04)" font-size="18" text-anchor="middle">10</text>
<line x1="931.27" y1="439.5" x2="931.27" y2="447.8" stroke="#000" stroke-width="1.6"/>
<text transform="translate(931.27,467.3) scale(1,1.04)" font-size="18" text-anchor="middle">20</text>
<line x1="1036.53" y1="439.5" x2="1036.53" y2="447.8" stroke="#000" stroke-width="1.6"/>
<text transform="translate(1036.53,467.3) scale(1,1.04)" font-size="18" text-anchor="middle">30</text>
<line x1="1141.79" y1="439.5" x2="1141.79" y2="447.8" stroke="#000" stroke-width="1.6"/>
<text transform="translate(1141.79,467.3) scale(1,1.04)" font-size="18" text-anchor="middle">40</text>
<line x1="1247.05" y1="439.5" x2="1247.05" y2="447.8" stroke="#000" stroke-width="1.6"/>
<text transform="translate(1247.05,467.3) scale(1,1.04)" font-size="18" text-anchor="middle">50</text>
<line x1="910.8" y1="46.35" x2="960.8" y2="46.35" stroke="#EE0000" stroke-width="1.8"/>
<line x1="910.8" y1="73.45" x2="960.8" y2="73.45" stroke="#2B5E98" stroke-width="1.8"/>
<text transform="translate(966,54.3) scale(1,1.02)" font-size="22" text-anchor="start">carbon nanodots</text>
<text transform="translate(966,81.4) scale(1,1.02)" font-size="22" text-anchor="start">carbon nanodots+silver ion</text>
<text transform="translate(663,216.5) rotate(-90) scale(1,1.02)" font-size="22" text-anchor="middle">Counts</text>
<text transform="translate(984,501.3) scale(1,1.02)" font-size="22" text-anchor="middle">Time (ns)</text>
<text transform="translate(0.75,536.2) scale(1,1.03)" font-size="48" text-anchor="start">C</text>
<polyline points="89.5,940.55 90.51,940.54 91.52,940.53 92.53,940.52 93.54,940.51 94.55,940.49 95.56,940.48 96.56,940.46 97.57,940.45 98.58,940.43 99.59,940.41 100.6,940.4 101.61,940.39 102.62,940.37 103.63,940.37 104.64,940.36 105.65,940.36 106.66,940.36 107.67,940.36 108.68,940.37 109.69,940.38 110.69,940.26 111.7,939.9 112.71,939.4 113.72,938.85 114.73,938.33 115.74,937.9 116.75,937.53 117.76,937.17 118.77,936.82 119.78,936.48 120.79,936.15 121.8,935.81 122.81,935.47 123.81,935.12 124.82,934.76 125.83,934.39 126.84,933.99 127.85,933.57 128.86,933.12 129.87,932.65 130.88,932.15 131.89,931.63 132.9,931.09 133.91,930.52 134.92,929.94 135.93,929.34 136.93,928.73 137.94,928.1 138.95,927.45 139.96,926.78 140.97,926.1 141.98,925.39 142.99,924.64 144,923.82 145.01,922.92 146.02,921.94 147.03,920.9 148.04,919.78 149.05,918.59 150.06,917.33 151.06,916.01 152.07,914.62 153.08,913.16 154.09,911.65 155.1,910.08 156.11,908.47 157.12,906.79 158.13,904.98 159.14,903.06 160.15,901.02 161.16,898.88 162.17,896.66 163.18,894.35 164.18,891.98 165.19,889.55 166.2,887.08 167.21,884.53 168.22,881.88 169.23,879.14 170.24,876.32 171.25,873.4 172.26,870.4 173.27,867.32 174.28,864.14 175.29,860.85 176.3,857.44 177.3,853.93 178.31,850.31 179.32,846.61 180.33,842.82 181.34,838.9 182.35,834.83 183.36,830.66 184.37,826.43 185.38,822.19 186.39,817.98 187.4,813.78 188.41,809.51 189.42,805.09 190.43,800.44 191.43,795.56 192.44,790.49 193.45,785.24 194.46,779.85 195.47,774.33 196.48,768.71 197.49,762.98 198.5,756.94 199.51,750.68 200.52,744.35 201.53,738.11 202.54,732.12 203.55,726.41 204.55,720.86 205.56,715.37 206.57,709.82 207.58,704.1 208.59,698.09 209.6,691.84 210.61,685.44 211.62,678.98 212.63,672.56 213.64,666.25 214.65,660 215.66,653.76 216.67,647.52 217.67,641.24 218.68,634.85 219.69,628.22 220.7,621.45 221.71,614.65 222.72,607.97 223.73,601.5 224.74,595.39 225.75,589.74 226.76,584.61 227.77,579.88 228.78,575.4 229.79,571.1 230.79,567.02 231.8,563.24 232.81,559.71 233.82,556.43 234.83,553.49 235.84,550.82 236.85,548.4 237.86,546.35 238.87,544.59 239.88,543.05 240.89,541.98 241.9,541.23 242.91,540.65 243.92,540.42 244.92,540.61 245.93,541.04 246.94,541.59 247.95,542.46 248.96,543.77 249.97,545.27 250.98,547.02 251.99,549.11 253,551.42 254.01,553.98 255.02,556.85 256.03,559.93 257.04,563.25 258.04,566.85 259.05,570.66 260.06,574.77 261.07,579.18 262.08,583.67 263.09,588.02 264.1,592.07 265.11,595.9 266.12,599.64 267.13,603.43 268.14,607.42 269.15,611.74 270.16,616.64 271.16,622.06 272.17,627.67 273.18,633.17 274.19,638.23 275.2,642.74 276.21,647.01 277.22,651.09 278.23,655.03 279.24,658.87 280.25,662.67 281.26,666.47 282.27,670.31 283.28,674.25 284.29,678.27 285.29,682.31 286.3,686.32 287.31,690.23 288.32,694 289.33,697.56 290.34,700.85 291.35,703.86 292.36,706.74 293.37,709.52 294.38,712.19 295.39,714.76 296.4,717.25 297.41,719.64 298.41,721.96 299.42,724.2 300.43,726.37 301.44,728.48 302.45,730.54 303.46,732.55 304.47,734.51 305.48,736.43 306.49,738.29 307.5,740.1 308.51,741.84 309.52,743.51 310.53,745.11 311.53,746.64 312.54,748.08 313.55,749.43 314.56,750.73 315.57,752 316.58,753.22 317.59,754.42 318.6,755.58 319.61,756.72 320.62,757.82 321.63,758.89 322.64,759.93 323.65,760.95 324.66,761.94 325.66,762.9 326.67,763.83 327.68,764.73 328.69,765.56 329.7,766.34 330.71,767.07 331.72,767.78 332.73,768.5 333.74,769.24 334.75,770.03 335.76,770.87 336.77,771.74 337.78,772.62 338.78,773.51 339.79,774.43 340.8,775.38 341.81,776.35 342.82,777.35 343.83,778.39 344.84,779.48 345.85,780.61 346.86,781.79 347.87,783.02 348.88,784.3 349.89,785.64 350.9,787.03 351.9,788.47 352.91,789.97 353.92,791.52 354.93,793.2 355.94,795.03 356.95,796.99 357.96,799.04 358.97,801.14 359.98,803.27 360.99,805.38 362,807.45 363.01,809.43 364.02,811.33 365.03,813.18 366.03,815.01 367.04,816.82 368.05,818.63 369.06,820.45 370.07,822.29 371.08,824.18 372.09,826.12 373.1,828.12 374.11,830.22 375.12,832.38 376.13,834.59 377.14,836.83 378.15,839.06 379.15,841.28 380.16,843.44 381.17,845.53 382.18,847.52 383.19,849.43 384.2,851.27 385.21,853.05 386.22,854.78 387.23,856.46 388.24,858.11 389.25,859.73 390.26,861.33 391.27,862.91 392.27,864.5 393.28,866.09 394.29,867.67 395.3,869.24 396.31,870.78 397.32,872.29 398.33,873.75 399.34,875.16 400.35,876.51 401.36,877.78 402.37,879 403.38,880.17 404.39,881.3 405.4,882.4 406.4,883.47 407.41,884.53 408.42,885.57 409.43,886.61 410.44,887.66 411.45,888.71 412.46,889.75 413.47,890.79 414.48,891.82 415.49,892.84 416.5,893.83 417.51,894.79 418.52,895.72 419.52,896.61 420.53,897.47 421.54,898.32 422.55,899.15 423.56,899.96 424.57,900.76 425.58,901.54 426.59,902.3 427.6,903.04 428.61,903.76 429.62,904.46 430.63,905.14 431.64,905.81 432.64,906.47 433.65,907.11 434.66,907.74 435.67,908.35 436.68,908.95 437.69,909.53 438.7,910.11 439.71,910.67 440.72,911.22 441.73,911.77 442.74,912.3 443.75,912.81 444.76,913.31 445.77,913.78 446.77,914.24 447.78,914.67 448.79,915.09 449.8,915.49 450.81,915.88 451.82,916.27 452.83,916.64 453.84,917 454.85,917.35 455.86,917.69 456.87,918.02 457.88,918.35 458.89,918.67 459.89,918.98 460.9,919.28 461.91,919.59 462.92,919.88 463.93,920.17 464.94,920.46 465.95,920.75 466.96,921.03 467.97,921.31 468.98,921.59 469.99,921.87 471,922.15 472.01,922.43 473.01,922.71 474.02,922.99 475.03,923.27 476.04,923.55 477.05,923.82 478.06,924.09 479.07,924.36 480.08,924.63 481.09,924.89 482.1,925.15 483.11,925.4 484.12,925.66 485.13,925.9 486.14,926.14 487.14,926.38 488.15,926.61 489.16,926.83 490.17,927.05 491.18,927.27 492.19,927.49 493.2,927.71 494.21,927.93 495.22,928.15 496.23,928.37 497.24,928.59 498.25,928.8 499.26,929.02 500.26,929.24 501.27,929.45 502.28,929.67 503.29,929.88 504.3,930.09 505.31,930.3 506.32,930.5 507.33,930.71 508.34,930.91 509.35,931.11 510.36,931.3 511.37,931.49 512.38,931.69 513.38,931.87 514.39,932.06 515.4,932.24 516.41,932.42 517.42,932.6 518.43,932.77 519.44,932.95 520.45,933.12 521.46,933.29 522.47,933.46 523.48,933.63 524.49,933.8 525.5,933.97 526.51,934.14 527.51,934.3 528.52,934.48 529.53,934.65 530.54,934.84 531.55,935.03 532.56,935.24 533.57,935.45 534.58,935.66 535.59,935.86 536.6,936.04 537.61,936.2 538.62,936.35 539.63,936.49 540.63,936.62 541.64,936.75 542.65,936.88 543.66,937 544.67,937.12 545.68,937.24 546.69,937.36 547.7,937.47 548.71,937.59 549.72,937.69 550.73,937.8 551.74,937.9 552.75,938 553.75,938.1 554.76,938.19 555.77,938.28 556.78,938.37 557.79,938.44 558.8,938.52 559.81,938.59 560.82,938.65 561.83,938.71 562.84,938.77 563.85,938.83 564.86,938.88 565.87,938.94 566.88,938.99 567.88,939.04 568.89,939.1 569.9,939.15 570.91,939.2 571.92,939.24 572.93,939.29 573.94,939.33 574.95,939.38 575.96,939.42 576.97,939.46 577.98,939.5 578.99,939.54 580,939.58 581,939.63 582.01,939.68 583.02,939.75 584.03,939.84 585.04,939.96 586.05,940.1 587.06,940.26 588.07,940.42 589.08,940.56 590.09,940.66 591.1,940.74 592.11,940.8 593.12,940.84 594.12,940.86 595.13,940.88 596.14,940.9 597.15,940.91 598.16,940.92 599.17,940.93 600.18,940.94 601.19,940.95 602.2,940.96 603.21,940.96 604.22,940.97 605.23,940.98 606.24,940.98 607.25,940.98 608.25,940.99 609.26,940.99 610.27,940.99 611.28,941 612.29,941 613.3,941 614.31,941" fill="none" stroke="#ED1C24" stroke-width="1.6" stroke-linejoin="round"/>
<polyline points="89.5,941.36 90.51,941.31 91.52,941.26 92.53,941.22 93.54,941.17 94.55,941.11 95.56,941.06 96.56,941.01 97.57,940.96 98.58,940.9 99.59,940.85 100.6,940.8 101.61,940.74 102.62,940.69 103.63,940.65 104.64,940.6 105.65,940.56 106.66,940.52 107.67,940.48 108.68,940.45 109.69,940.42 110.69,940.25 111.7,939.86 112.71,939.37 113.72,938.82 114.73,938.3 115.74,937.87 116.75,937.49 117.76,937.13 118.77,936.78 119.78,936.43 120.79,936.09 121.8,935.75 122.81,935.4 123.81,935.04 124.82,934.66 125.83,934.27 126.84,933.87 127.85,933.43 128.86,932.98 129.87,932.49 130.88,931.98 131.89,931.46 132.9,930.91 133.91,930.34 134.92,929.75 135.93,929.15 136.93,928.53 137.94,927.89 138.95,927.24 139.96,926.57 140.97,925.88 141.98,925.16 142.99,924.41 144,923.58 145.01,922.68 146.02,921.71 147.03,920.66 148.04,919.54 149.05,918.35 150.06,917.09 151.06,915.77 152.07,914.38 153.08,912.93 154.09,911.42 155.1,909.85 156.11,908.24 157.12,906.56 158.13,904.76 159.14,902.85 160.15,900.82 161.16,898.7 162.17,896.49 163.18,894.2 164.18,891.85 165.19,889.44 166.2,886.98 167.21,884.45 168.22,881.83 169.23,879.11 170.24,876.31 171.25,873.42 172.26,870.45 173.27,867.4 174.28,864.25 175.29,860.99 176.3,857.63 177.3,854.15 178.31,850.58 179.32,846.92 180.33,843.17 181.34,839.3 182.35,835.29 183.36,831.17 184.37,827 185.38,822.81 186.39,818.66 187.4,814.52 188.41,810.3 189.42,805.95 190.43,801.36 191.43,796.56 192.44,791.57 193.45,786.42 194.46,781.12 195.47,775.7 196.48,770.18 197.49,764.55 198.5,758.62 199.51,752.47 200.52,746.25 201.53,740.13 202.54,734.25 203.55,728.65 204.55,723.22 205.56,717.83 206.57,712.39 207.58,706.78 208.59,700.91 209.6,694.79 210.61,688.54 211.62,682.22 212.63,675.94 213.64,669.78 214.65,663.66 215.66,657.57 216.67,651.47 217.67,645.33 218.68,639.09 219.69,632.62 220.7,626.02 221.71,619.39 222.72,612.87 223.73,606.57 224.74,600.61 225.75,595.11 226.76,590.12 227.77,585.5 228.78,581.14 229.79,576.95 230.79,572.98 231.8,569.29 232.81,565.87 233.82,562.68 234.83,559.82 235.84,557.24 236.85,554.9 237.86,552.93 238.87,551.22 239.88,549.74 240.89,548.72 241.9,548.01 242.91,547.46 243.92,547.27 244.92,547.47 245.93,547.91 246.94,548.47 247.95,549.35 248.96,550.65 249.97,552.14 250.98,553.87 251.99,555.93 253,558.2 254.01,560.72 255.02,563.54 256.03,566.56 257.04,569.82 258.04,573.35 259.05,577.08 260.06,581.11 261.07,585.42 262.08,589.81 263.09,594.07 264.1,598.04 265.11,601.79 266.12,605.46 267.13,609.18 268.14,613.09 269.15,617.32 270.16,622.11 271.16,627.41 272.17,632.91 273.18,638.3 274.19,643.26 275.2,647.68 276.21,651.87 277.22,655.87 278.23,659.74 279.24,663.52 280.25,667.25 281.26,670.99 282.27,674.76 283.28,678.63 284.29,682.58 285.29,686.55 286.3,690.48 287.31,694.32 288.32,698.02 289.33,701.51 290.34,704.75 291.35,707.71 292.36,710.54 293.37,713.27 294.38,715.9 295.39,718.43 296.4,720.88 297.41,723.24 298.41,725.52 299.42,727.73 300.43,729.87 301.44,731.96 302.45,733.98 303.46,735.97 304.47,737.9 305.48,739.8 306.49,741.64 307.5,743.42 308.51,745.14 309.52,746.79 310.53,748.38 311.53,749.88 312.54,751.3 313.55,752.64 314.56,753.93 315.57,755.18 316.58,756.39 317.59,757.57 318.6,758.72 319.61,759.84 320.62,760.93 321.63,761.99 322.64,763.02 323.65,764.03 324.66,765.01 325.66,765.96 326.67,766.89 327.68,767.78 328.69,768.62 329.7,769.39 330.71,770.12 331.72,770.83 332.73,771.55 333.74,772.29 334.75,773.08 335.76,773.92 336.77,774.78 337.78,775.66 338.78,776.55 339.79,777.46 340.8,778.4 341.81,779.37 342.82,780.36 343.83,781.39 344.84,782.46 345.85,783.58 346.86,784.75 347.87,785.97 348.88,787.24 349.89,788.55 350.9,789.92 351.9,791.35 352.91,792.82 353.92,794.36 354.93,796 355.94,797.81 356.95,799.73 357.96,801.74 358.97,803.81 359.98,805.89 360.99,807.97 362,810 363.01,811.95 364.02,813.81 365.03,815.63 366.03,817.43 367.04,819.21 368.05,820.98 369.06,822.77 370.07,824.59 371.08,826.44 372.09,828.35 373.1,830.32 374.11,832.37 375.12,834.49 376.13,836.66 377.14,838.86 378.15,841.06 379.15,843.23 380.16,845.35 381.17,847.4 382.18,849.35 383.19,851.22 384.2,853.03 385.21,854.78 386.22,856.47 387.23,858.13 388.24,859.74 389.25,861.33 390.26,862.9 391.27,864.45 392.27,866 393.28,867.56 394.29,869.11 395.3,870.64 396.31,872.15 397.32,873.63 398.33,875.07 399.34,876.45 400.35,877.77 401.36,879.01 402.37,880.21 403.38,881.36 404.39,882.47 405.4,883.55 406.4,884.6 407.41,885.63 408.42,886.66 409.43,887.68 410.44,888.7 411.45,889.73 412.46,890.75 413.47,891.77 414.48,892.78 415.49,893.77 416.5,894.74 417.51,895.69 418.52,896.6 419.52,897.47 420.53,898.32 421.54,899.15 422.55,899.97 423.56,900.77 424.57,901.55 425.58,902.31 426.59,903.06 427.6,903.78 428.61,904.49 429.62,905.18 430.63,905.85 431.64,906.51 432.64,907.15 433.65,907.78 434.66,908.39 435.67,909 436.68,909.58 437.69,910.16 438.7,910.72 439.71,911.27 440.72,911.82 441.73,912.35 442.74,912.87 443.75,913.37 444.76,913.86 445.77,914.33 446.77,914.78 447.78,915.21 448.79,915.61 449.8,916.01 450.81,916.4 451.82,916.77 452.83,917.13 453.84,917.49 454.85,917.83 455.86,918.17 456.87,918.5 457.88,918.82 458.89,919.13 459.89,919.43 460.9,919.73 461.91,920.03 462.92,920.32 463.93,920.61 464.94,920.89 465.95,921.17 466.96,921.45 467.97,921.72 468.98,922 469.99,922.27 471,922.55 472.01,922.82 473.01,923.1 474.02,923.37 475.03,923.64 476.04,923.91 477.05,924.18 478.06,924.45 479.07,924.71 480.08,924.97 481.09,925.23 482.1,925.48 483.11,925.73 484.12,925.98 485.13,926.22 486.14,926.46 487.14,926.69 488.15,926.91 489.16,927.13 490.17,927.35 491.18,927.56 492.19,927.78 493.2,927.99 494.21,928.2 495.22,928.42 496.23,928.63 497.24,928.85 498.25,929.06 499.26,929.27 500.26,929.49 501.27,929.7 502.28,929.91 503.29,930.11 504.3,930.32 505.31,930.52 506.32,930.72 507.33,930.92 508.34,931.12 509.35,931.31 510.36,931.5 511.37,931.69 512.38,931.88 513.38,932.06 514.39,932.24 515.4,932.42 516.41,932.6 517.42,932.77 518.43,932.94 519.44,933.11 520.45,933.28 521.46,933.45 522.47,933.62 523.48,933.78 524.49,933.95 525.5,934.11 526.51,934.27 527.51,934.44 528.52,934.6 529.53,934.78 530.54,934.96 531.55,935.15 532.56,935.35 533.57,935.56 534.58,935.76 535.59,935.96 536.6,936.13 537.61,936.29 538.62,936.44 539.63,936.57 540.63,936.7 541.64,936.83 542.65,936.95 543.66,937.08 544.67,937.19 545.68,937.31 546.69,937.42 547.7,937.54 548.71,937.65 549.72,937.75 550.73,937.86 551.74,937.96 552.75,938.06 553.75,938.15 554.76,938.24 555.77,938.33 556.78,938.41 557.79,938.48 558.8,938.56 559.81,938.63 560.82,938.69 561.83,938.75 562.84,938.8 563.85,938.86 564.86,938.91 565.87,938.97 566.88,939.02 567.88,939.07 568.89,939.12 569.9,939.17 570.91,939.22 571.92,939.27 572.93,939.31 573.94,939.36 574.95,939.4 575.96,939.44 576.97,939.48 577.98,939.52 578.99,939.55 580,939.6 581,939.64 582.01,939.69 583.02,939.76 584.03,939.85 585.04,939.97 586.05,940.11 587.06,940.27 588.07,940.42 589.08,940.56 590.09,940.66 591.1,940.74 592.11,940.79 593.12,940.83 594.12,940.86 595.13,940.88 596.14,940.89 597.15,940.91 598.16,940.92 599.17,940.93 600.18,940.94 601.19,940.94 602.2,940.95 603.21,940.96 604.22,940.96 605.23,940.97 606.24,940.97 607.25,940.98 608.25,940.98 609.26,940.99 610.27,940.99 611.28,940.99 612.29,940.99 613.3,940.99 614.31,940.99" fill="none" stroke="#245895" stroke-width="1.6" stroke-linejoin="round"/>
<polyline points="89.5,940.95 90.51,940.93 91.52,940.9 92.53,940.87 93.54,940.84 94.55,940.8 95.56,940.77 96.56,940.73 97.57,940.69 98.58,940.65 99.59,940.62 100.6,940.58 101.61,940.54 102.62,940.51 103.63,940.47 104.64,940.44 105.65,940.41 106.66,940.38 107.67,940.36 108.68,940.33 109.69,940.31 110.69,940.16 111.7,939.78 112.71,939.29 113.72,938.74 114.73,938.22 115.74,937.79 116.75,937.39 117.76,937.02 118.77,936.65 119.78,936.29 120.79,935.93 121.8,935.56 122.81,935.19 123.81,934.8 124.82,934.4 125.83,933.98 126.84,933.54 127.85,933.08 128.86,932.6 129.87,932.09 130.88,931.56 131.89,931.01 132.9,930.44 133.91,929.85 134.92,929.25 135.93,928.63 136.93,927.99 137.94,927.34 138.95,926.67 139.96,925.98 140.97,925.27 141.98,924.54 142.99,923.77 144,922.93 145.01,922.01 146.02,921.02 147.03,919.96 148.04,918.83 149.05,917.62 150.06,916.35 151.06,915.01 152.07,913.6 153.08,912.14 154.09,910.61 155.1,909.03 156.11,907.41 157.12,905.72 158.13,903.91 159.14,901.99 160.15,899.96 161.16,897.84 162.17,895.63 163.18,893.35 164.18,891 165.19,888.6 166.2,886.15 167.21,883.62 168.22,881.01 169.23,878.31 170.24,875.52 171.25,872.65 172.26,869.7 173.27,866.67 174.28,863.55 175.29,860.32 176.3,856.98 177.3,853.55 178.31,850.02 179.32,846.4 180.33,842.69 181.34,838.87 182.35,834.9 183.36,830.84 184.37,826.72 185.38,822.59 186.39,818.5 187.4,814.41 188.41,810.26 189.42,805.97 190.43,801.47 191.43,796.76 192.44,791.87 193.45,786.83 194.46,781.64 195.47,776.34 196.48,770.94 197.49,765.44 198.5,759.65 199.51,753.65 200.52,747.6 201.53,741.63 202.54,735.9 203.55,730.43 204.55,725.13 205.56,719.89 206.57,714.59 207.58,709.14 208.59,703.45 209.6,697.53 210.61,691.47 211.62,685.35 212.63,679.28 213.64,673.31 214.65,667.39 215.66,661.5 216.67,655.6 217.67,649.68 218.68,643.65 219.69,637.41 220.7,631.04 221.71,624.66 222.72,618.38 223.73,612.32 224.74,606.59 225.75,601.31 226.76,596.5 227.77,592.07 228.78,587.88 229.79,583.85 230.79,580.04 231.8,576.5 232.81,573.22 233.82,570.17 234.83,567.45 235.84,564.99 236.85,562.78 237.86,560.92 238.87,559.33 239.88,557.94 240.89,556.99 241.9,556.35 242.91,555.87 243.92,555.73 244.92,555.97 245.93,556.44 246.94,557.03 247.95,557.91 248.96,559.21 249.97,560.7 250.98,562.41 251.99,564.44 253,566.67 254.01,569.14 255.02,571.89 256.03,574.84 257.04,578.02 258.04,581.45 259.05,585.08 260.06,588.99 261.07,593.17 262.08,597.43 263.09,601.57 264.1,605.42 265.11,609.07 266.12,612.64 267.13,616.26 268.14,620.06 269.15,624.17 270.16,628.83 271.16,633.97 272.17,639.31 273.18,644.54 274.19,649.36 275.2,653.67 276.21,657.76 277.22,661.67 278.23,665.45 279.24,669.14 280.25,672.8 281.26,676.45 282.27,680.14 283.28,683.92 284.29,687.78 285.29,691.65 286.3,695.49 287.31,699.24 288.32,702.85 289.33,706.26 290.34,709.42 291.35,712.32 292.36,715.1 293.37,717.77 294.38,720.35 295.39,722.84 296.4,725.24 297.41,727.56 298.41,729.8 299.42,731.97 300.43,734.08 301.44,736.14 302.45,738.14 303.46,740.09 304.47,742.01 305.48,743.87 306.49,745.69 307.5,747.45 308.51,749.15 309.52,750.79 310.53,752.35 311.53,753.84 312.54,755.24 313.55,756.57 314.56,757.84 315.57,759.07 316.58,760.27 317.59,761.44 318.6,762.58 319.61,763.69 320.62,764.77 321.63,765.82 322.64,766.85 323.65,767.85 324.66,768.82 325.66,769.77 326.67,770.69 327.68,771.59 328.69,772.43 329.7,773.21 330.71,773.95 331.72,774.67 332.73,775.4 333.74,776.15 334.75,776.94 335.76,777.79 336.77,778.65 337.78,779.53 338.78,780.42 339.79,781.34 340.8,782.27 341.81,783.24 342.82,784.23 343.83,785.26 344.84,786.32 345.85,787.43 346.86,788.59 347.87,789.79 348.88,791.04 349.89,792.35 350.9,793.7 351.9,795.1 352.91,796.55 353.92,798.05 354.93,799.67 355.94,801.43 356.95,803.31 357.96,805.28 358.97,807.29 359.98,809.33 360.99,811.36 362,813.34 363.01,815.24 364.02,817.07 365.03,818.85 366.03,820.61 367.04,822.35 368.05,824.09 369.06,825.84 370.07,827.61 371.08,829.43 372.09,831.29 373.1,833.22 374.11,835.22 375.12,837.3 376.13,839.41 377.14,841.56 378.15,843.7 379.15,845.82 380.16,847.89 381.17,849.89 382.18,851.79 383.19,853.61 384.2,855.37 385.21,857.08 386.22,858.73 387.23,860.34 388.24,861.91 389.25,863.46 390.26,864.98 391.27,866.49 392.27,868 393.28,869.51 394.29,871.02 395.3,872.51 396.31,873.98 397.32,875.42 398.33,876.81 399.34,878.16 400.35,879.44 401.36,880.65 402.37,881.82 403.38,882.93 404.39,884.02 405.4,885.07 406.4,886.09 407.41,887.1 408.42,888.1 409.43,889.09 410.44,890.09 411.45,891.08 412.46,892.08 413.47,893.08 414.48,894.06 415.49,895.02 416.5,895.97 417.51,896.88 418.52,897.77 419.52,898.62 420.53,899.45 421.54,900.26 422.55,901.05 423.56,901.83 424.57,902.59 425.58,903.34 426.59,904.06 427.6,904.77 428.61,905.46 429.62,906.13 430.63,906.79 431.64,907.43 432.64,908.06 433.65,908.67 434.66,909.27 435.67,909.86 436.68,910.43 437.69,910.99 438.7,911.54 439.71,912.08 440.72,912.61 441.73,913.13 442.74,913.64 443.75,914.14 444.76,914.61 445.77,915.07 446.77,915.51 447.78,915.93 448.79,916.32 449.8,916.71 450.81,917.09 451.82,917.45 452.83,917.81 453.84,918.15 454.85,918.49 455.86,918.82 456.87,919.14 457.88,919.45 458.89,919.76 459.89,920.06 460.9,920.35 461.91,920.64 462.92,920.92 463.93,921.2 464.94,921.48 465.95,921.75 466.96,922.02 467.97,922.29 468.98,922.56 469.99,922.83 471,923.09 472.01,923.36 473.01,923.63 474.02,923.9 475.03,924.16 476.04,924.42 477.05,924.68 478.06,924.94 479.07,925.2 480.08,925.45 481.09,925.7 482.1,925.95 483.11,926.19 484.12,926.43 485.13,926.66 486.14,926.89 487.14,927.11 488.15,927.33 489.16,927.54 490.17,927.75 491.18,927.96 492.19,928.17 493.2,928.38 494.21,928.58 495.22,928.79 496.23,929 497.24,929.21 498.25,929.41 499.26,929.62 500.26,929.83 501.27,930.03 502.28,930.23 503.29,930.43 504.3,930.63 505.31,930.83 506.32,931.02 507.33,931.22 508.34,931.41 509.35,931.59 510.36,931.78 511.37,931.96 512.38,932.14 513.38,932.32 514.39,932.49 515.4,932.67 516.41,932.84 517.42,933 518.43,933.17 519.44,933.34 520.45,933.5 521.46,933.66 522.47,933.82 523.48,933.98 524.49,934.14 525.5,934.3 526.51,934.46 527.51,934.62 528.52,934.78 529.53,934.95 530.54,935.12 531.55,935.31 532.56,935.5 533.57,935.7 534.58,935.9 535.59,936.09 536.6,936.26 537.61,936.42 538.62,936.56 539.63,936.69 540.63,936.82 541.64,936.94 542.65,937.06 543.66,937.18 544.67,937.29 545.68,937.4 546.69,937.51 547.7,937.62 548.71,937.73 549.72,937.83 550.73,937.93 551.74,938.03 552.75,938.12 553.75,938.21 554.76,938.3 555.77,938.38 556.78,938.46 557.79,938.54 558.8,938.61 559.81,938.67 560.82,938.73 561.83,938.79 562.84,938.84 563.85,938.9 564.86,938.95 565.87,939 566.88,939.06 567.88,939.11 568.89,939.16 569.9,939.2 570.91,939.25 571.92,939.3 572.93,939.34 573.94,939.38 574.95,939.42 575.96,939.46 576.97,939.5 577.98,939.54 578.99,939.57 580,939.61 581,939.66 582.01,939.71 583.02,939.78 584.03,939.87 585.04,939.98 586.05,940.12 587.06,940.27 588.07,940.42 589.08,940.55 590.09,940.66 591.1,940.74 592.11,940.79 593.12,940.83 594.12,940.85 595.13,940.87 596.14,940.89 597.15,940.9 598.16,940.91 599.17,940.92 600.18,940.93 601.19,940.94 602.2,940.94 603.21,940.95 604.22,940.95 605.23,940.96 606.24,940.97 607.25,940.97 608.25,940.97 609.26,940.98 610.27,940.98 611.28,940.98 612.29,940.98 613.3,940.98 614.31,940.98" fill="none" stroke="#FFC000" stroke-width="1.6" stroke-linejoin="round"/>
<polyline points="89.5,940.96 90.51,940.94 91.52,940.91 92.53,940.88 93.54,940.85 94.55,940.81 95.56,940.78 96.56,940.74 97.57,940.7 98.58,940.65 99.59,940.61 100.6,940.57 101.61,940.52 102.62,940.48 103.63,940.43 104.64,940.38 105.65,940.33 106.66,940.29 107.67,940.24 108.68,940.2 109.69,940.16 110.69,940.01 111.7,939.66 112.71,939.2 113.72,938.69 114.73,938.21 115.74,937.81 116.75,937.45 117.76,937.11 118.77,936.79 119.78,936.48 120.79,936.17 121.8,935.85 122.81,935.53 123.81,935.19 124.82,934.85 125.83,934.48 126.84,934.1 127.85,933.69 128.86,933.26 129.87,932.81 130.88,932.33 131.89,931.84 132.9,931.31 133.91,930.77 134.92,930.21 135.93,929.62 136.93,929.01 137.94,928.38 138.95,927.73 139.96,927.05 140.97,926.35 141.98,925.63 142.99,924.86 144,924.02 145.01,923.12 146.02,922.15 147.03,921.11 148.04,920 149.05,918.84 150.06,917.61 151.06,916.32 152.07,914.98 153.08,913.58 154.09,912.14 155.1,910.65 156.11,909.12 157.12,907.53 158.13,905.85 159.14,904.06 160.15,902.18 161.16,900.23 162.17,898.19 163.18,896.1 164.18,893.94 165.19,891.74 166.2,889.5 167.21,887.2 168.22,884.83 169.23,882.38 170.24,879.86 171.25,877.28 172.26,874.63 173.27,871.92 174.28,869.15 175.29,866.29 176.3,863.34 177.3,860.32 178.31,857.22 179.32,854.04 180.33,850.8 181.34,847.45 182.35,843.98 183.36,840.42 184.37,836.81 185.38,833.19 186.39,829.59 187.4,825.98 188.41,822.32 189.42,818.52 190.43,814.52 191.43,810.33 192.44,805.97 193.45,801.47 194.46,796.84 195.47,792.09 196.48,787.25 197.49,782.31 198.5,777.11 199.51,771.72 200.52,766.27 201.53,760.9 202.54,755.72 203.55,750.76 204.55,745.88 205.56,740.95 206.57,735.78 207.58,730.21 208.59,724.11 209.6,717.64 210.61,711.13 211.62,704.85 212.63,698.88 213.64,693.22 214.65,687.73 215.66,682.32 216.67,676.93 217.67,671.53 218.68,666.03 219.69,660.34 220.7,654.53 221.71,648.71 222.72,642.98 223.73,637.44 224.74,632.21 225.75,627.38 226.76,622.98 227.77,618.91 228.78,615.06 229.79,611.36 230.79,607.85 231.8,604.6 232.81,601.57 233.82,598.78 234.83,596.29 235.84,594.05 236.85,592.04 237.86,590.36 238.87,588.92 239.88,587.67 240.89,586.82 241.9,586.26 242.91,585.85 243.92,585.75 244.92,586.02 245.93,586.5 246.94,587.1 247.95,587.98 248.96,589.23 249.97,590.66 250.98,592.3 251.99,594.24 253,596.36 254.01,598.69 255.02,601.28 256.03,604.04 257.04,607 258.04,610.19 259.05,613.55 260.06,617.15 261.07,620.99 262.08,624.9 263.09,628.68 264.1,632.22 265.11,635.56 266.12,638.84 267.13,642.16 268.14,645.64 269.15,649.4 270.16,653.65 271.16,658.33 272.17,663.19 273.18,667.94 274.19,672.33 275.2,676.25 276.21,679.97 277.22,683.52 278.23,686.95 279.24,690.29 280.25,693.58 281.26,696.86 282.27,700.17 283.28,703.54 284.29,706.97 285.29,710.41 286.3,713.81 287.31,717.13 288.32,720.31 289.33,723.32 290.34,726.11 291.35,728.66 292.36,731.12 293.37,733.49 294.38,735.78 295.39,738 296.4,740.16 297.41,742.26 298.41,744.3 299.42,746.29 300.43,748.24 301.44,750.14 302.45,752.02 303.46,753.85 304.47,755.66 305.48,757.44 306.49,759.17 307.5,760.85 308.51,762.48 309.52,764.04 310.53,765.54 311.53,766.97 312.54,768.31 313.55,769.58 314.56,770.78 315.57,771.96 316.58,773.09 317.59,774.19 318.6,775.25 319.61,776.28 320.62,777.28 321.63,778.26 322.64,779.21 323.65,780.14 324.66,781.04 325.66,781.93 326.67,782.8 327.68,783.65 328.69,784.46 329.7,785.22 330.71,785.96 331.72,786.69 332.73,787.43 333.74,788.2 334.75,789.02 335.76,789.89 336.77,790.78 337.78,791.69 338.78,792.61 339.79,793.56 340.8,794.52 341.81,795.51 342.82,796.53 343.83,797.57 344.84,798.64 345.85,799.75 346.86,800.9 347.87,802.08 348.88,803.31 349.89,804.58 350.9,805.88 351.9,807.23 352.91,808.61 353.92,810.04 354.93,811.56 355.94,813.21 356.95,814.95 357.96,816.77 358.97,818.62 359.98,820.49 360.99,822.34 362,824.15 363.01,825.89 364.02,827.54 365.03,829.16 366.03,830.75 367.04,832.32 368.05,833.89 369.06,835.46 370.07,837.06 371.08,838.69 372.09,840.36 373.1,842.09 374.11,843.89 375.12,845.74 376.13,847.61 377.14,849.5 378.15,851.37 379.15,853.21 380.16,855 381.17,856.73 382.18,858.37 383.19,859.95 384.2,861.48 385.21,862.98 386.22,864.44 387.23,865.87 388.24,867.28 389.25,868.68 390.26,870.06 391.27,871.44 392.27,872.82 393.28,874.2 394.29,875.58 395.3,876.95 396.31,878.3 397.32,879.62 398.33,880.9 399.34,882.14 400.35,883.32 401.36,884.44 402.37,885.52 403.38,886.55 404.39,887.55 405.4,888.52 406.4,889.47 407.41,890.4 408.42,891.32 409.43,892.24 410.44,893.15 411.45,894.07 412.46,894.99 413.47,895.91 414.48,896.81 415.49,897.7 416.5,898.56 417.51,899.41 418.52,900.22 419.52,901.01 420.53,901.77 421.54,902.51 422.55,903.24 423.56,903.95 424.57,904.65 425.58,905.34 426.59,906 427.6,906.65 428.61,907.29 429.62,907.9 430.63,908.5 431.64,909.09 432.64,909.67 433.65,910.24 434.66,910.8 435.67,911.34 436.68,911.88 437.69,912.41 438.7,912.92 439.71,913.43 440.72,913.94 441.73,914.43 442.74,914.92 443.75,915.39 444.76,915.85 445.77,916.29 446.77,916.72 447.78,917.13 448.79,917.52 449.8,917.9 450.81,918.27 451.82,918.63 452.83,918.98 453.84,919.32 454.85,919.65 455.86,919.97 456.87,920.29 457.88,920.6 458.89,920.9 459.89,921.2 460.9,921.49 461.91,921.77 462.92,922.06 463.93,922.33 464.94,922.61 465.95,922.88 466.96,923.15 467.97,923.42 468.98,923.68 469.99,923.95 471,924.21 472.01,924.48 473.01,924.74 474.02,925 475.03,925.26 476.04,925.52 477.05,925.77 478.06,926.02 479.07,926.27 480.08,926.51 481.09,926.75 482.1,926.98 483.11,927.2 484.12,927.42 485.13,927.62 486.14,927.81 487.14,928 488.15,928.17 489.16,928.33 490.17,928.49 491.18,928.66 492.19,928.82 493.2,928.99 494.21,929.16 495.22,929.34 496.23,929.52 497.24,929.7 498.25,929.88 499.26,930.07 500.26,930.25 501.27,930.43 502.28,930.62 503.29,930.8 504.3,930.98 505.31,931.16 506.32,931.33 507.33,931.51 508.34,931.68 509.35,931.85 510.36,932.02 511.37,932.18 512.38,932.34 513.38,932.5 514.39,932.66 515.4,932.82 516.41,932.97 517.42,933.12 518.43,933.28 519.44,933.43 520.45,933.57 521.46,933.72 522.47,933.87 523.48,934.01 524.49,934.16 525.5,934.3 526.51,934.45 527.51,934.6 528.52,934.75 529.53,934.92 530.54,935.1 531.55,935.29 532.56,935.51 533.57,935.73 534.58,935.95 535.59,936.16 536.6,936.35 537.61,936.51 538.62,936.65 539.63,936.78 540.63,936.9 541.64,937.01 542.65,937.12 543.66,937.23 544.67,937.34 545.68,937.44 546.69,937.54 547.7,937.64 548.71,937.73 549.72,937.83 550.73,937.92 551.74,938.01 552.75,938.09 553.75,938.17 554.76,938.25 555.77,938.33 556.78,938.4 557.79,938.47 558.8,938.53 559.81,938.59 560.82,938.64 561.83,938.69 562.84,938.74 563.85,938.79 564.86,938.84 565.87,938.89 566.88,938.94 567.88,938.98 568.89,939.03 569.9,939.07 570.91,939.11 571.92,939.15 572.93,939.19 573.94,939.23 574.95,939.27 575.96,939.3 576.97,939.34 577.98,939.38 578.99,939.41 580,939.45 581,939.5 582.01,939.55 583.02,939.63 584.03,939.73 585.04,939.86 586.05,940.02 587.06,940.2 588.07,940.37 589.08,940.53 590.09,940.65 591.1,940.74 592.11,940.8 593.12,940.84 594.12,940.87 595.13,940.89 596.14,940.91 597.15,940.92 598.16,940.93 599.17,940.94 600.18,940.95 601.19,940.95 602.2,940.96 603.21,940.97 604.22,940.97 605.23,940.98 606.24,940.98 607.25,940.99 608.25,940.99 609.26,940.99 610.27,941 611.28,941 612.29,941 613.3,941 614.31,941" fill="none" stroke="#20BD5F" stroke-width="1.6" stroke-linejoin="round"/>
<polyline points="89.5,941.42 90.51,941.39 91.52,941.35 92.53,941.31 93.54,941.27 94.55,941.23 95.56,941.19 96.56,941.15 97.57,941.11 98.58,941.06 99.59,941.03 100.6,940.98 101.61,940.94 102.62,940.89 103.63,940.83 104.64,940.78 105.65,940.72 106.66,940.66 107.67,940.59 108.68,940.53 109.69,940.47 110.69,940.32 111.7,940.03 112.71,939.69 113.72,939.3 114.73,938.92 115.74,938.58 116.75,938.27 117.76,937.98 118.77,937.7 119.78,937.43 120.79,937.16 121.8,936.86 122.81,936.53 123.81,936.17 124.82,935.78 125.83,935.36 126.84,934.92 127.85,934.45 128.86,933.96 129.87,933.46 130.88,932.95 131.89,932.42 132.9,931.87 133.91,931.31 134.92,930.74 135.93,930.15 136.93,929.54 137.94,928.92 138.95,928.28 139.96,927.62 140.97,926.93 141.98,926.22 142.99,925.48 144,924.67 145.01,923.81 146.02,922.88 147.03,921.88 148.04,920.8 149.05,919.66 150.06,918.44 151.06,917.15 152.07,915.79 153.08,914.37 154.09,912.89 155.1,911.35 156.11,909.76 157.12,908.11 158.13,906.38 159.14,904.57 160.15,902.7 161.16,900.76 162.17,898.77 163.18,896.71 164.18,894.59 165.19,892.43 166.2,890.22 167.21,887.95 168.22,885.61 169.23,883.22 170.24,880.77 171.25,878.26 172.26,875.7 173.27,873.08 174.28,870.41 175.29,867.67 176.3,864.87 177.3,862.01 178.31,859.07 179.32,856.06 180.33,852.98 181.34,849.81 182.35,846.55 183.36,843.23 184.37,839.87 185.38,836.5 186.39,833.15 187.4,829.82 188.41,826.46 189.42,823.05 190.43,819.55 191.43,815.98 192.44,812.34 193.45,808.65 194.46,804.89 195.47,801.05 196.48,797.17 197.49,793.23 198.5,789.16 199.51,784.99 200.52,780.81 201.53,776.7 202.54,772.74 203.55,768.96 204.55,765.31 205.56,761.74 206.57,758.19 207.58,754.63 208.59,751.01 209.6,747.33 210.61,743.59 211.62,739.83 212.63,736.1 213.64,732.45 214.65,728.84 215.66,725.26 216.67,721.7 217.67,718.15 218.68,714.59 219.69,710.94 220.7,707.27 221.71,703.63 222.72,700.08 223.73,696.7 224.74,693.54 225.75,690.63 226.76,687.98 227.77,685.54 228.78,683.24 229.79,681.04 230.79,678.97 231.8,677.07 232.81,675.33 233.82,673.81 234.83,672.55 235.84,671.5 236.85,670.63 237.86,669.97 238.87,669.47 239.88,669.08 240.89,668.9 241.9,668.91 242.91,669.04 243.92,669.38 244.92,669.95 245.93,670.66 246.94,671.46 247.95,672.43 248.96,673.62 249.97,674.92 250.98,676.33 251.99,677.92 253,679.6 254.01,681.38 255.02,683.3 256.03,685.28 257.04,687.36 258.04,689.53 259.05,691.8 260.06,694.19 261.07,696.73 262.08,699.31 263.09,701.85 264.1,704.27 265.11,706.59 266.12,708.9 267.13,711.25 268.14,713.71 269.15,716.35 270.16,719.29 271.16,722.51 272.17,725.84 273.18,729.14 274.19,732.25 275.2,735.11 276.21,737.86 277.22,740.53 278.23,743.14 279.24,745.7 280.25,748.23 281.26,750.76 282.27,753.29 283.28,755.86 284.29,758.45 285.29,761.03 286.3,763.56 287.31,766.03 288.32,768.4 289.33,770.65 290.34,772.77 291.35,774.73 292.36,776.62 293.37,778.46 294.38,780.23 295.39,781.96 296.4,783.63 297.41,785.26 298.41,786.86 299.42,788.42 300.43,789.95 301.44,791.45 302.45,792.93 303.46,794.38 304.47,795.8 305.48,797.2 306.49,798.56 307.5,799.89 308.51,801.17 309.52,802.4 310.53,803.58 311.53,804.71 312.54,805.78 313.55,806.79 314.56,807.76 315.57,808.71 316.58,809.63 317.59,810.52 318.6,811.4 319.61,812.25 320.62,813.09 321.63,813.91 322.64,814.73 323.65,815.53 324.66,816.32 325.66,817.11 326.67,817.89 327.68,818.67 328.69,819.43 329.7,820.15 330.71,820.87 331.72,821.58 332.73,822.3 333.74,823.04 334.75,823.8 335.76,824.6 336.77,825.42 337.78,826.25 338.78,827.09 339.79,827.94 340.8,828.82 341.81,829.7 342.82,830.61 343.83,831.54 344.84,832.49 345.85,833.46 346.86,834.45 347.87,835.47 348.88,836.51 349.89,837.57 350.9,838.65 351.9,839.75 352.91,840.88 353.92,842.02 354.93,843.22 355.94,844.49 356.95,845.82 357.96,847.19 358.97,848.58 359.98,849.98 360.99,851.38 362,852.75 363.01,854.08 364.02,855.37 365.03,856.64 366.03,857.89 367.04,859.14 368.05,860.38 369.06,861.63 370.07,862.89 371.08,864.17 372.09,865.47 373.1,866.81 374.11,868.19 375.12,869.59 376.13,871.01 377.14,872.43 378.15,873.84 379.15,875.23 380.16,876.59 381.17,877.9 382.18,879.16 383.19,880.38 384.2,881.55 385.21,882.7 386.22,883.81 387.23,884.91 388.24,885.98 389.25,887.03 390.26,888.07 391.27,889.1 392.27,890.12 393.28,891.14 394.29,892.15 395.3,893.15 396.31,894.13 397.32,895.09 398.33,896.03 399.34,896.93 400.35,897.79 401.36,898.61 402.37,899.4 403.38,900.16 404.39,900.89 405.4,901.59 406.4,902.27 407.41,902.94 408.42,903.59 409.43,904.24 410.44,904.87 411.45,905.5 412.46,906.12 413.47,906.74 414.48,907.34 415.49,907.94 416.5,908.52 417.51,909.08 418.52,909.63 419.52,910.17 420.53,910.69 421.54,911.2 422.55,911.71 423.56,912.21 424.57,912.71 425.58,913.2 426.59,913.68 427.6,914.15 428.61,914.62 429.62,915.08 430.63,915.53 431.64,915.97 432.64,916.41 433.65,916.85 434.66,917.28 435.67,917.71 436.68,918.13 437.69,918.55 438.7,918.96 439.71,919.36 440.72,919.76 441.73,920.16 442.74,920.55 443.75,920.93 444.76,921.3 445.77,921.65 446.77,922 447.78,922.33 448.79,922.65 449.8,922.96 450.81,923.26 451.82,923.56 452.83,923.84 453.84,924.12 454.85,924.4 455.86,924.67 456.87,924.93 457.88,925.18 458.89,925.43 459.89,925.68 460.9,925.92 461.91,926.16 462.92,926.39 463.93,926.62 464.94,926.84 465.95,927.06 466.96,927.28 467.97,927.49 468.98,927.71 469.99,927.92 471,928.12 472.01,928.33 473.01,928.53 474.02,928.73 475.03,928.93 476.04,929.12 477.05,929.32 478.06,929.51 479.07,929.7 480.08,929.88 481.09,930.07 482.1,930.25 483.11,930.43 484.12,930.61 485.13,930.79 486.14,930.97 487.14,931.14 488.15,931.32 489.16,931.49 490.17,931.65 491.18,931.82 492.19,931.97 493.2,932.12 494.21,932.26 495.22,932.4 496.23,932.54 497.24,932.67 498.25,932.8 499.26,932.93 500.26,933.06 501.27,933.19 502.28,933.31 503.29,933.43 504.3,933.55 505.31,933.67 506.32,933.79 507.33,933.9 508.34,934.02 509.35,934.13 510.36,934.24 511.37,934.35 512.38,934.45 513.38,934.56 514.39,934.66 515.4,934.76 516.41,934.87 517.42,934.96 518.43,935.06 519.44,935.16 520.45,935.26 521.46,935.35 522.47,935.45 523.48,935.54 524.49,935.64 525.5,935.74 526.51,935.84 527.51,935.94 528.52,936.05 529.53,936.18 530.54,936.33 531.55,936.49 532.56,936.69 533.57,936.89 534.58,937.1 535.59,937.29 536.6,937.45 537.61,937.59 538.62,937.7 539.63,937.8 540.63,937.88 541.64,937.96 542.65,938.04 543.66,938.11 544.67,938.18 545.68,938.24 546.69,938.31 547.7,938.37 548.71,938.44 549.72,938.5 550.73,938.55 551.74,938.61 552.75,938.67 553.75,938.72 554.76,938.77 555.77,938.82 556.78,938.87 557.79,938.91 558.8,938.95 559.81,938.99 560.82,939.03 561.83,939.06 562.84,939.1 563.85,939.13 564.86,939.16 565.87,939.19 566.88,939.22 567.88,939.25 568.89,939.28 569.9,939.31 570.91,939.34 571.92,939.37 572.93,939.4 573.94,939.42 574.95,939.45 575.96,939.47 576.97,939.5 577.98,939.52 578.99,939.55 580,939.58 581,939.62 582.01,939.67 583.02,939.73 584.03,939.82 585.04,939.94 586.05,940.09 587.06,940.26 588.07,940.43 589.08,940.57 590.09,940.68 591.1,940.76 592.11,940.82 593.12,940.86 594.12,940.89 595.13,940.9 596.14,940.92 597.15,940.93 598.16,940.94 599.17,940.95 600.18,940.95 601.19,940.96 602.2,940.97 603.21,940.97 604.22,940.98 605.23,940.98 606.24,940.98 607.25,940.99 608.25,940.99 609.26,940.99 610.27,941 611.28,941 612.29,941 613.3,941 614.31,941" fill="none" stroke="#4A4A8C" stroke-width="1.6" stroke-linejoin="round"/>
<polyline points="89.5,941.03 90.51,941.02 91.52,941 92.53,940.98 93.54,940.96 94.55,940.94 95.56,940.92 96.56,940.89 97.57,940.87 98.58,940.85 99.59,940.83 100.6,940.81 101.61,940.78 102.62,940.74 103.63,940.7 104.64,940.65 105.65,940.6 106.66,940.55 107.67,940.49 108.68,940.42 109.69,940.36 110.69,940.23 111.7,940 112.71,939.73 113.72,939.41 114.73,939.1 115.74,938.8 116.75,938.52 117.76,938.24 118.77,937.98 119.78,937.74 120.79,937.48 121.8,937.18 122.81,936.85 123.81,936.48 124.82,936.08 125.83,935.65 126.84,935.19 127.85,934.7 128.86,934.21 129.87,933.7 130.88,933.19 131.89,932.66 132.9,932.13 133.91,931.59 134.92,931.04 135.93,930.48 136.93,929.91 137.94,929.33 138.95,928.74 139.96,928.14 140.97,927.52 141.98,926.88 142.99,926.22 144,925.51 145.01,924.76 146.02,923.96 147.03,923.1 148.04,922.18 149.05,921.19 150.06,920.14 151.06,919.04 152.07,917.87 153.08,916.64 154.09,915.36 155.1,914.03 156.11,912.65 157.12,911.22 158.13,909.73 159.14,908.18 160.15,906.59 161.16,904.95 162.17,903.26 163.18,901.52 164.18,899.73 165.19,897.89 166.2,896.01 167.21,894.09 168.22,892.11 169.23,890.1 170.24,888.04 171.25,885.95 172.26,883.82 173.27,881.66 174.28,879.46 175.29,877.22 176.3,874.94 177.3,872.62 178.31,870.24 179.32,867.79 180.33,865.28 181.34,862.69 182.35,860.01 183.36,857.26 184.37,854.46 185.38,851.61 186.39,848.73 187.4,845.82 188.41,842.87 189.42,839.86 190.43,836.8 191.43,833.69 192.44,830.55 193.45,827.4 194.46,824.22 195.47,821 196.48,817.77 197.49,814.54 198.5,811.26 199.51,807.97 200.52,804.72 201.53,801.55 202.54,798.5 203.55,795.6 204.55,792.82 205.56,790.14 206.57,787.53 207.58,784.97 208.59,782.44 209.6,779.93 210.61,777.4 211.62,774.88 212.63,772.41 213.64,769.99 214.65,767.63 215.66,765.33 216.67,763.07 217.67,760.85 218.68,758.67 219.69,756.5 220.7,754.36 221.71,752.29 222.72,750.32 223.73,748.49 224.74,746.83 225.75,745.33 226.76,743.98 227.77,742.75 228.78,741.6 229.79,740.51 230.79,739.5 231.8,738.59 232.81,737.79 233.82,737.16 234.83,736.72 235.84,736.44 236.85,736.29 237.86,736.27 238.87,736.33 239.88,736.44 240.89,736.64 241.9,736.97 242.91,737.39 243.92,737.93 244.92,738.6 245.93,739.37 246.94,740.2 247.95,741.12 248.96,742.17 249.97,743.29 250.98,744.46 251.99,745.73 253,747.04 254.01,748.41 255.02,749.83 256.03,751.27 257.04,752.74 258.04,754.26 259.05,755.81 260.06,757.43 261.07,759.12 262.08,760.84 263.09,762.54 264.1,764.18 265.11,765.78 266.12,767.37 267.13,769 268.14,770.7 269.15,772.5 270.16,774.48 271.16,776.63 272.17,778.85 273.18,781.08 274.19,783.22 275.2,785.23 276.21,787.2 277.22,789.13 278.23,791.03 279.24,792.91 280.25,794.78 281.26,796.64 282.27,798.5 283.28,800.38 284.29,802.26 285.29,804.12 286.3,805.94 287.31,807.71 288.32,809.42 289.33,811.05 290.34,812.59 291.35,814.05 292.36,815.46 293.37,816.83 294.38,818.16 295.39,819.46 296.4,820.73 297.41,821.97 298.41,823.18 299.42,824.37 300.43,825.54 301.44,826.69 302.45,827.82 303.46,828.92 304.47,829.99 305.48,831.04 306.49,832.05 307.5,833.02 308.51,833.95 309.52,834.83 310.53,835.67 311.53,836.46 312.54,837.21 313.55,837.91 314.56,838.59 315.57,839.25 316.58,839.89 317.59,840.53 318.6,841.16 319.61,841.79 320.62,842.42 321.63,843.06 322.64,843.7 323.65,844.35 324.66,845.01 325.66,845.69 326.67,846.38 327.68,847.09 328.69,847.79 329.7,848.49 330.71,849.19 331.72,849.9 332.73,850.62 333.74,851.35 334.75,852.11 335.76,852.88 336.77,853.66 337.78,854.45 338.78,855.25 339.79,856.05 340.8,856.87 341.81,857.69 342.82,858.52 343.83,859.36 344.84,860.21 345.85,861.08 346.86,861.96 347.87,862.85 348.88,863.75 349.89,864.67 350.9,865.6 351.9,866.54 352.91,867.49 353.92,868.45 354.93,869.44 355.94,870.46 356.95,871.52 357.96,872.6 358.97,873.69 359.98,874.78 360.99,875.87 362,876.94 363.01,877.99 364.02,879.01 365.03,880.01 366.03,881 367.04,881.99 368.05,882.96 369.06,883.93 370.07,884.91 371.08,885.89 372.09,886.88 373.1,887.88 374.11,888.9 375.12,889.92 376.13,890.95 377.14,891.97 378.15,892.98 379.15,893.97 380.16,894.94 381.17,895.87 382.18,896.76 383.19,897.61 384.2,898.43 385.21,899.23 386.22,900.01 387.23,900.76 388.24,901.5 389.25,902.23 390.26,902.94 391.27,903.64 392.27,904.33 393.28,905.01 394.29,905.69 395.3,906.36 396.31,907.01 397.32,907.65 398.33,908.27 399.34,908.86 400.35,909.43 401.36,909.98 402.37,910.5 403.38,911 404.39,911.48 405.4,911.95 406.4,912.4 407.41,912.83 408.42,913.26 409.43,913.67 410.44,914.08 411.45,914.49 412.46,914.89 413.47,915.28 414.48,915.67 415.49,916.05 416.5,916.43 417.51,916.8 418.52,917.16 419.52,917.51 420.53,917.86 421.54,918.2 422.55,918.54 423.56,918.87 424.57,919.2 425.58,919.53 426.59,919.85 427.6,920.17 428.61,920.48 429.62,920.79 430.63,921.09 431.64,921.39 432.64,921.7 433.65,922 434.66,922.3 435.67,922.6 436.68,922.9 437.69,923.2 438.7,923.5 439.71,923.8 440.72,924.1 441.73,924.4 442.74,924.7 443.75,925 444.76,925.29 445.77,925.57 446.77,925.85 447.78,926.12 448.79,926.39 449.8,926.64 450.81,926.89 451.82,927.14 452.83,927.38 453.84,927.62 454.85,927.85 455.86,928.07 456.87,928.29 457.88,928.5 458.89,928.71 459.89,928.91 460.9,929.11 461.91,929.3 462.92,929.48 463.93,929.66 464.94,929.84 465.95,930.01 466.96,930.17 467.97,930.33 468.98,930.49 469.99,930.64 471,930.79 472.01,930.94 473.01,931.08 474.02,931.22 475.03,931.35 476.04,931.49 477.05,931.62 478.06,931.75 479.07,931.88 480.08,932.01 481.09,932.15 482.1,932.29 483.11,932.43 484.12,932.58 485.13,932.74 486.14,932.92 487.14,933.1 488.15,933.3 489.16,933.49 490.17,933.68 491.18,933.86 492.19,934.03 493.2,934.18 494.21,934.32 495.22,934.44 496.23,934.55 497.24,934.66 498.25,934.76 499.26,934.85 500.26,934.94 501.27,935.03 502.28,935.11 503.29,935.19 504.3,935.27 505.31,935.35 506.32,935.43 507.33,935.5 508.34,935.57 509.35,935.65 510.36,935.72 511.37,935.79 512.38,935.86 513.38,935.92 514.39,935.99 515.4,936.05 516.41,936.12 517.42,936.18 518.43,936.24 519.44,936.3 520.45,936.37 521.46,936.43 522.47,936.49 523.48,936.55 524.49,936.61 525.5,936.68 526.51,936.75 527.51,936.82 528.52,936.91 529.53,937.01 530.54,937.14 531.55,937.29 532.56,937.47 533.57,937.68 534.58,937.88 535.59,938.06 536.6,938.22 537.61,938.34 538.62,938.44 539.63,938.51 540.63,938.58 541.64,938.63 542.65,938.68 543.66,938.73 544.67,938.78 545.68,938.82 546.69,938.86 547.7,938.9 548.71,938.94 549.72,938.98 550.73,939.02 551.74,939.05 552.75,939.09 553.75,939.12 554.76,939.15 555.77,939.19 556.78,939.22 557.79,939.24 558.8,939.27 559.81,939.3 560.82,939.32 561.83,939.34 562.84,939.36 563.85,939.38 564.86,939.4 565.87,939.42 566.88,939.44 567.88,939.46 568.89,939.48 569.9,939.5 570.91,939.52 571.92,939.54 572.93,939.56 573.94,939.58 574.95,939.59 575.96,939.61 576.97,939.63 577.98,939.65 578.99,939.67 580,939.69 581,939.72 582.01,939.77 583.02,939.83 584.03,939.91 585.04,940.02 586.05,940.16 587.06,940.32 588.07,940.47 589.08,940.61 590.09,940.72 591.1,940.79 592.11,940.84 593.12,940.88 594.12,940.9 595.13,940.92 596.14,940.93 597.15,940.94 598.16,940.95 599.17,940.96 600.18,940.96 601.19,940.97 602.2,940.97 603.21,940.98 604.22,940.98 605.23,940.98 606.24,940.99 607.25,940.99 608.25,940.99 609.26,941 610.27,941 611.28,941 612.29,941 613.3,941 614.31,941" fill="none" stroke="#888888" stroke-width="1.6" stroke-linejoin="round"/>
<polyline points="89.5,941.43 90.51,941.4 91.52,941.37 92.53,941.33 93.54,941.29 94.55,941.25 95.56,941.21 96.56,941.17 97.57,941.12 98.58,941.08 99.59,941.03 100.6,940.98 101.61,940.92 102.62,940.85 103.63,940.77 104.64,940.68 105.65,940.58 106.66,940.46 107.67,940.33 108.68,940.19 109.69,940.04 110.69,939.83 111.7,939.53 112.71,939.2 113.72,938.83 114.73,938.43 115.74,938.03 116.75,937.63 117.76,937.24 118.77,936.85 119.78,936.5 120.79,936.17 121.8,935.83 122.81,935.52 123.81,935.25 124.82,935.04 125.83,934.88 126.84,934.78 127.85,934.72 128.86,934.67 129.87,934.61 130.88,934.51 131.89,934.34 132.9,934.1 133.91,933.78 134.92,933.4 135.93,932.95 136.93,932.45 137.94,931.91 138.95,931.33 139.96,930.73 140.97,930.09 141.98,929.42 142.99,928.73 144,928 145.01,927.24 146.02,926.43 147.03,925.58 148.04,924.68 149.05,923.73 150.06,922.73 151.06,921.7 152.07,920.62 153.08,919.5 154.09,918.34 155.1,917.15 156.11,915.92 157.12,914.65 158.13,913.34 159.14,911.99 160.15,910.6 161.16,909.18 162.17,907.72 163.18,906.2 164.18,904.64 165.19,903.02 166.2,901.37 167.21,899.67 168.22,897.94 169.23,896.16 170.24,894.35 171.25,892.5 172.26,890.63 173.27,888.73 174.28,886.81 175.29,884.87 176.3,882.9 177.3,880.91 178.31,878.88 179.32,876.81 180.33,874.69 181.34,872.53 182.35,870.33 183.36,868.09 184.37,865.82 185.38,863.54 186.39,861.25 187.4,858.96 188.41,856.64 189.42,854.29 190.43,851.91 191.43,849.48 192.44,847.03 193.45,844.54 194.46,841.99 195.47,839.36 196.48,836.67 197.49,833.94 198.5,831.16 199.51,828.35 200.52,825.55 201.53,822.8 202.54,820.15 203.55,817.61 204.55,815.17 205.56,812.84 206.57,810.6 207.58,808.45 208.59,806.37 209.6,804.36 210.61,802.35 211.62,800.37 212.63,798.43 213.64,796.55 214.65,794.71 215.66,792.93 216.67,791.19 217.67,789.49 218.68,787.83 219.69,786.19 220.7,784.59 221.71,783.06 222.72,781.61 223.73,780.27 224.74,779.06 225.75,777.95 226.76,776.93 227.77,776 228.78,775.12 229.79,774.3 230.79,773.54 231.8,772.87 232.81,772.28 233.82,771.86 234.83,771.63 235.84,771.54 236.85,771.57 237.86,771.71 238.87,771.91 239.88,772.14 240.89,772.43 241.9,772.81 242.91,773.27 243.92,773.83 244.92,774.49 245.93,775.22 246.94,776 247.95,776.85 248.96,777.79 249.97,778.77 250.98,779.79 251.99,780.87 253,781.98 254.01,783.12 255.02,784.29 256.03,785.48 257.04,786.68 258.04,787.93 259.05,789.19 260.06,790.51 261.07,791.86 262.08,793.23 263.09,794.57 264.1,795.88 265.11,797.16 266.12,798.44 267.13,799.74 268.14,801.08 269.15,802.5 270.16,804.02 271.16,805.65 272.17,807.35 273.18,809.05 274.19,810.72 275.2,812.32 276.21,813.91 277.22,815.47 278.23,817.02 279.24,818.56 280.25,820.09 281.26,821.6 282.27,823.11 283.28,824.62 284.29,826.11 285.29,827.58 286.3,829 287.31,830.38 288.32,831.69 289.33,832.94 290.34,834.13 291.35,835.25 292.36,836.33 293.37,837.37 294.38,838.38 295.39,839.37 296.4,840.32 297.41,841.26 298.41,842.17 299.42,843.08 300.43,843.99 301.44,844.89 302.45,845.78 303.46,846.66 304.47,847.54 305.48,848.4 306.49,849.25 307.5,850.08 308.51,850.89 309.52,851.67 310.53,852.41 311.53,853.13 312.54,853.8 313.55,854.45 314.56,855.08 315.57,855.68 316.58,856.27 317.59,856.85 318.6,857.41 319.61,857.97 320.62,858.52 321.63,859.07 322.64,859.61 323.65,860.16 324.66,860.71 325.66,861.26 326.67,861.83 327.68,862.41 328.69,862.98 329.7,863.55 330.71,864.13 331.72,864.71 332.73,865.3 333.74,865.91 334.75,866.54 335.76,867.19 336.77,867.84 337.78,868.51 338.78,869.19 339.79,869.89 340.8,870.59 341.81,871.3 342.82,872.02 343.83,872.76 344.84,873.51 345.85,874.27 346.86,875.03 347.87,875.81 348.88,876.6 349.89,877.39 350.9,878.19 351.9,879 352.91,879.81 353.92,880.63 354.93,881.46 355.94,882.31 356.95,883.18 357.96,884.07 358.97,884.96 359.98,885.85 360.99,886.74 362,887.62 363.01,888.49 364.02,889.35 365.03,890.19 366.03,891.03 367.04,891.87 368.05,892.7 369.06,893.53 370.07,894.37 371.08,895.21 372.09,896.07 373.1,896.93 374.11,897.81 375.12,898.69 376.13,899.57 377.14,900.44 378.15,901.3 379.15,902.14 380.16,902.96 381.17,903.76 382.18,904.51 383.19,905.24 384.2,905.94 385.21,906.61 386.22,907.26 387.23,907.9 388.24,908.52 389.25,909.12 390.26,909.72 391.27,910.3 392.27,910.87 393.28,911.44 394.29,912 395.3,912.55 396.31,913.09 397.32,913.62 398.33,914.14 399.34,914.65 400.35,915.14 401.36,915.61 402.37,916.06 403.38,916.51 404.39,916.94 405.4,917.35 406.4,917.76 407.41,918.15 408.42,918.54 409.43,918.92 410.44,919.29 411.45,919.66 412.46,920.02 413.47,920.37 414.48,920.72 415.49,921.06 416.5,921.39 417.51,921.72 418.52,922.04 419.52,922.35 420.53,922.65 421.54,922.96 422.55,923.25 423.56,923.54 424.57,923.83 425.58,924.11 426.59,924.39 427.6,924.66 428.61,924.93 429.62,925.2 430.63,925.45 431.64,925.71 432.64,925.96 433.65,926.21 434.66,926.46 435.67,926.7 436.68,926.95 437.69,927.19 438.7,927.43 439.71,927.66 440.72,927.89 441.73,928.12 442.74,928.35 443.75,928.57 444.76,928.78 445.77,928.99 446.77,929.2 447.78,929.39 448.79,929.58 449.8,929.77 450.81,929.95 451.82,930.12 452.83,930.29 453.84,930.46 454.85,930.63 455.86,930.79 456.87,930.95 457.88,931.1 458.89,931.25 459.89,931.4 460.9,931.55 461.91,931.69 462.92,931.83 463.93,931.96 464.94,932.1 465.95,932.23 466.96,932.35 467.97,932.48 468.98,932.6 469.99,932.72 471,932.83 472.01,932.94 473.01,933.05 474.02,933.16 475.03,933.27 476.04,933.37 477.05,933.47 478.06,933.58 479.07,933.68 480.08,933.78 481.09,933.88 482.1,933.99 483.11,934.1 484.12,934.21 485.13,934.33 486.14,934.46 487.14,934.59 488.15,934.72 489.16,934.86 490.17,934.99 491.18,935.12 492.19,935.24 493.2,935.34 494.21,935.44 495.22,935.53 496.23,935.61 497.24,935.68 498.25,935.76 499.26,935.82 500.26,935.89 501.27,935.95 502.28,936.01 503.29,936.07 504.3,936.13 505.31,936.19 506.32,936.25 507.33,936.3 508.34,936.35 509.35,936.41 510.36,936.46 511.37,936.51 512.38,936.56 513.38,936.61 514.39,936.65 515.4,936.7 516.41,936.74 517.42,936.79 518.43,936.83 519.44,936.88 520.45,936.92 521.46,936.97 522.47,937.01 523.48,937.06 524.49,937.1 525.5,937.15 526.51,937.21 527.51,937.27 528.52,937.34 529.53,937.43 530.54,937.55 531.55,937.7 532.56,937.89 533.57,938.09 534.58,938.3 535.59,938.49 536.6,938.64 537.61,938.76 538.62,938.85 539.63,938.92 540.63,938.97 541.64,939.02 542.65,939.06 543.66,939.09 544.67,939.13 545.68,939.16 546.69,939.19 547.7,939.22 548.71,939.24 549.72,939.27 550.73,939.3 551.74,939.32 552.75,939.35 553.75,939.37 554.76,939.4 555.77,939.42 556.78,939.44 557.79,939.46 558.8,939.48 559.81,939.5 560.82,939.51 561.83,939.53 562.84,939.55 563.85,939.56 564.86,939.58 565.87,939.59 566.88,939.61 567.88,939.62 568.89,939.63 569.9,939.65 570.91,939.66 571.92,939.68 572.93,939.69 573.94,939.7 574.95,939.72 575.96,939.73 576.97,939.74 577.98,939.76 578.99,939.78 580,939.8 581,939.83 582.01,939.86 583.02,939.92 584.03,939.99 585.04,940.1 586.05,940.22 587.06,940.37 588.07,940.52 589.08,940.64 590.09,940.74 591.1,940.81 592.11,940.86 593.12,940.89 594.12,940.91 595.13,940.93 596.14,940.94 597.15,940.95 598.16,940.96 599.17,940.96 600.18,940.97 601.19,940.97 602.2,940.98 603.21,940.98 604.22,940.98 605.23,940.99 606.24,940.99 607.25,940.99 608.25,940.99 609.26,941 610.27,941 611.28,941 612.29,941 613.3,941 614.31,941" fill="none" stroke="#FF4040" stroke-width="1.6" stroke-linejoin="round"/>
<polyline points="89.5,941.42 90.51,941.38 91.52,941.35 92.53,941.3 93.54,941.26 94.55,941.21 95.56,941.17 96.56,941.12 97.57,941.07 98.58,941.02 99.59,940.97 100.6,940.91 101.61,940.85 102.62,940.78 103.63,940.7 104.64,940.62 105.65,940.52 106.66,940.42 107.67,940.32 108.68,940.21 109.69,940.1 110.69,939.95 111.7,939.73 112.71,939.51 113.72,939.26 114.73,939.01 115.74,938.75 116.75,938.51 117.76,938.27 118.77,938.06 119.78,937.87 120.79,937.68 121.8,937.47 122.81,937.23 123.81,936.98 124.82,936.7 125.83,936.39 126.84,936.06 127.85,935.71 128.86,935.33 129.87,934.95 130.88,934.55 131.89,934.13 132.9,933.7 133.91,933.26 134.92,932.8 135.93,932.33 136.93,931.84 137.94,931.35 138.95,930.85 139.96,930.33 140.97,929.81 141.98,929.27 142.99,928.71 144,928.13 145.01,927.53 146.02,926.9 147.03,926.23 148.04,925.53 149.05,924.79 150.06,924.01 151.06,923.2 152.07,922.36 153.08,921.48 154.09,920.58 155.1,919.64 156.11,918.68 157.12,917.69 158.13,916.66 159.14,915.6 160.15,914.51 161.16,913.39 162.17,912.23 163.18,911.03 164.18,909.78 165.19,908.48 166.2,907.15 167.21,905.76 168.22,904.34 169.23,902.88 170.24,901.39 171.25,899.86 172.26,898.31 173.27,896.73 174.28,895.13 175.29,893.5 176.3,891.86 177.3,890.19 178.31,888.49 179.32,886.75 180.33,884.97 181.34,883.15 182.35,881.3 183.36,879.42 184.37,877.53 185.38,875.62 186.39,873.71 187.4,871.8 188.41,869.88 189.42,867.95 190.43,866.01 191.43,864.05 192.44,862.1 193.45,860.14 194.46,858.14 195.47,856.1 196.48,854.03 197.49,851.93 198.5,849.8 199.51,847.65 200.52,845.51 201.53,843.41 202.54,841.37 203.55,839.4 204.55,837.51 205.56,835.69 206.57,833.94 207.58,832.26 208.59,830.65 209.6,829.09 210.61,827.54 211.62,826 212.63,824.5 213.64,823.03 214.65,821.6 215.66,820.21 216.67,818.86 217.67,817.55 218.68,816.28 219.69,815.03 220.7,813.83 221.71,812.69 222.72,811.63 223.73,810.65 224.74,809.78 225.75,808.99 226.76,808.27 227.77,807.61 228.78,806.99 229.79,806.42 230.79,805.91 231.8,805.45 232.81,805.07 233.82,804.83 234.83,804.74 235.84,804.77 236.85,804.9 237.86,805.11 238.87,805.36 239.88,805.63 240.89,805.94 241.9,806.32 242.91,806.75 243.92,807.27 244.92,807.85 245.93,808.49 246.94,809.17 247.95,809.9 248.96,810.69 249.97,811.5 250.98,812.35 251.99,813.24 253,814.14 254.01,815.07 255.02,816.02 256.03,816.97 257.04,817.94 258.04,818.94 259.05,819.95 260.06,820.99 261.07,822.05 262.08,823.12 263.09,824.16 264.1,825.18 265.11,826.18 266.12,827.17 267.13,828.18 268.14,829.21 269.15,830.3 270.16,831.45 271.16,832.69 272.17,833.97 273.18,835.27 274.19,836.54 275.2,837.78 276.21,839 277.22,840.22 278.23,841.43 279.24,842.63 280.25,843.82 281.26,845 282.27,846.17 283.28,847.33 284.29,848.48 285.29,849.61 286.3,850.7 287.31,851.75 288.32,852.75 289.33,853.71 290.34,854.62 291.35,855.49 292.36,856.32 293.37,857.13 294.38,857.92 295.39,858.68 296.4,859.44 297.41,860.17 298.41,860.9 299.42,861.62 300.43,862.34 301.44,863.06 302.45,863.77 303.46,864.48 304.47,865.18 305.48,865.86 306.49,866.53 307.5,867.18 308.51,867.82 309.52,868.42 310.53,869.01 311.53,869.56 312.54,870.09 313.55,870.59 314.56,871.08 315.57,871.56 316.58,872.03 317.59,872.5 318.6,872.96 319.61,873.42 320.62,873.88 321.63,874.35 322.64,874.82 323.65,875.3 324.66,875.79 325.66,876.29 326.67,876.8 327.68,877.32 328.69,877.84 329.7,878.36 330.71,878.89 331.72,879.41 332.73,879.94 333.74,880.47 334.75,881.01 335.76,881.56 336.77,882.11 337.78,882.66 338.78,883.22 339.79,883.78 340.8,884.35 341.81,884.92 342.82,885.5 343.83,886.08 344.84,886.68 345.85,887.29 346.86,887.91 347.87,888.54 348.88,889.19 349.89,889.84 350.9,890.5 351.9,891.18 352.91,891.86 353.92,892.55 354.93,893.26 355.94,893.98 356.95,894.72 357.96,895.47 358.97,896.23 359.98,896.98 360.99,897.74 362,898.49 363.01,899.23 364.02,899.96 365.03,900.68 366.03,901.39 367.04,902.1 368.05,902.79 369.06,903.48 370.07,904.16 371.08,904.84 372.09,905.52 373.1,906.2 374.11,906.87 375.12,907.55 376.13,908.21 377.14,908.87 378.15,909.51 379.15,910.13 380.16,910.74 381.17,911.32 382.18,911.88 383.19,912.41 384.2,912.92 385.21,913.41 386.22,913.9 387.23,914.36 388.24,914.82 389.25,915.27 390.26,915.72 391.27,916.15 392.27,916.59 393.28,917.01 394.29,917.44 395.3,917.85 396.31,918.26 397.32,918.67 398.33,919.07 399.34,919.46 400.35,919.84 401.36,920.21 402.37,920.57 403.38,920.92 404.39,921.27 405.4,921.6 406.4,921.93 407.41,922.26 408.42,922.57 409.43,922.89 410.44,923.19 411.45,923.5 412.46,923.8 413.47,924.09 414.48,924.38 415.49,924.67 416.5,924.95 417.51,925.22 418.52,925.49 419.52,925.75 420.53,926.01 421.54,926.26 422.55,926.51 423.56,926.75 424.57,926.99 425.58,927.23 426.59,927.46 427.6,927.68 428.61,927.9 429.62,928.12 430.63,928.33 431.64,928.54 432.64,928.74 433.65,928.95 434.66,929.15 435.67,929.35 436.68,929.55 437.69,929.74 438.7,929.94 439.71,930.13 440.72,930.32 441.73,930.51 442.74,930.69 443.75,930.87 444.76,931.05 445.77,931.23 446.77,931.4 447.78,931.56 448.79,931.72 449.8,931.88 450.81,932.03 451.82,932.18 452.83,932.33 453.84,932.47 454.85,932.61 455.86,932.75 456.87,932.88 457.88,933.01 458.89,933.14 459.89,933.26 460.9,933.38 461.91,933.49 462.92,933.6 463.93,933.71 464.94,933.81 465.95,933.91 466.96,934 467.97,934.09 468.98,934.18 469.99,934.27 471,934.35 472.01,934.43 473.01,934.5 474.02,934.57 475.03,934.65 476.04,934.72 477.05,934.79 478.06,934.86 479.07,934.93 480.08,935 481.09,935.07 482.1,935.15 483.11,935.23 484.12,935.32 485.13,935.41 486.14,935.52 487.14,935.63 488.15,935.76 489.16,935.88 490.17,936.01 491.18,936.12 492.19,936.23 493.2,936.33 494.21,936.41 495.22,936.49 496.23,936.56 497.24,936.62 498.25,936.68 499.26,936.73 500.26,936.79 501.27,936.84 502.28,936.88 503.29,936.93 504.3,936.97 505.31,937.02 506.32,937.06 507.33,937.1 508.34,937.14 509.35,937.18 510.36,937.22 511.37,937.26 512.38,937.29 513.38,937.33 514.39,937.36 515.4,937.4 516.41,937.43 517.42,937.46 518.43,937.5 519.44,937.53 520.45,937.56 521.46,937.6 522.47,937.63 523.48,937.66 524.49,937.7 525.5,937.74 526.51,937.78 527.51,937.83 528.52,937.89 529.53,937.97 530.54,938.07 531.55,938.2 532.56,938.36 533.57,938.54 534.58,938.72 535.59,938.89 536.6,939.02 537.61,939.12 538.62,939.2 539.63,939.26 540.63,939.3 541.64,939.34 542.65,939.37 543.66,939.4 544.67,939.42 545.68,939.44 546.69,939.47 547.7,939.49 548.71,939.51 549.72,939.53 550.73,939.55 551.74,939.57 552.75,939.59 553.75,939.6 554.76,939.62 555.77,939.64 556.78,939.65 557.79,939.67 558.8,939.68 559.81,939.7 560.82,939.71 561.83,939.72 562.84,939.73 563.85,939.75 564.86,939.76 565.87,939.77 566.88,939.78 567.88,939.79 568.89,939.8 569.9,939.81 570.91,939.82 571.92,939.83 572.93,939.84 573.94,939.85 574.95,939.86 575.96,939.87 576.97,939.89 577.98,939.9 578.99,939.91 580,939.93 581,939.95 582.01,939.99 583.02,940.03 584.03,940.1 585.04,940.19 586.05,940.31 587.06,940.44 588.07,940.57 589.08,940.68 590.09,940.77 591.1,940.84 592.11,940.88 593.12,940.91 594.12,940.93 595.13,940.94 596.14,940.95 597.15,940.96 598.16,940.96 599.17,940.97 600.18,940.97 601.19,940.98 602.2,940.98 603.21,940.98 604.22,940.99 605.23,940.99 606.24,940.99 607.25,940.99 608.25,940.99 609.26,941 610.27,941 611.28,941 612.29,941 613.3,941 614.31,941" fill="none" stroke="#3F84C4" stroke-width="1.6" stroke-linejoin="round"/>
<polyline points="89.5,943 90.51,942.89 91.52,942.77 92.53,942.65 93.54,942.52 94.55,942.4 95.56,942.27 96.56,942.13 97.57,942 98.58,941.86 99.59,941.73 100.6,941.59 101.61,941.44 102.62,941.29 103.63,941.13 104.64,940.97 105.65,940.8 106.66,940.63 107.67,940.45 108.68,940.27 109.69,940.1 110.69,939.9 111.7,939.66 112.71,939.5 113.72,939.32 114.73,939.14 115.74,938.95 116.75,938.77 117.76,938.6 118.77,938.45 119.78,938.31 120.79,938.17 121.8,938.02 122.81,937.84 123.81,937.65 124.82,937.45 125.83,937.22 126.84,936.97 127.85,936.71 128.86,936.43 129.87,936.14 130.88,935.84 131.89,935.53 132.9,935.21 133.91,934.87 134.92,934.53 135.93,934.17 136.93,933.81 137.94,933.44 138.95,933.05 139.96,932.66 140.97,932.26 141.98,931.85 142.99,931.42 144,930.98 145.01,930.51 146.02,930.03 147.03,929.52 148.04,928.98 149.05,928.42 150.06,927.82 151.06,927.21 152.07,926.56 153.08,925.9 154.09,925.21 155.1,924.5 156.11,923.77 157.12,923.02 158.13,922.25 159.14,921.45 160.15,920.64 161.16,919.81 162.17,918.96 163.18,918.07 164.18,917.15 165.19,916.19 166.2,915.2 167.21,914.18 168.22,913.13 169.23,912.05 170.24,910.95 171.25,909.82 172.26,908.66 173.27,907.49 174.28,906.3 175.29,905.1 176.3,903.88 177.3,902.65 178.31,901.39 179.32,900.1 180.33,898.78 181.34,897.43 182.35,896.07 183.36,894.68 184.37,893.29 185.38,891.88 186.39,890.48 187.4,889.08 188.41,887.68 189.42,886.28 190.43,884.89 191.43,883.51 192.44,882.14 193.45,880.79 194.46,879.42 195.47,878.03 196.48,876.63 197.49,875.23 198.5,873.82 199.51,872.42 200.52,871.04 201.53,869.68 202.54,868.37 203.55,867.1 204.55,865.89 205.56,864.73 206.57,863.62 207.58,862.56 208.59,861.56 209.6,860.6 210.61,859.63 211.62,858.68 212.63,857.73 213.64,856.81 214.65,855.91 215.66,855.03 216.67,854.18 217.67,853.36 218.68,852.57 219.69,851.81 220.7,851.09 221.71,850.41 222.72,849.78 223.73,849.22 224.74,848.74 225.75,848.29 226.76,847.89 227.77,847.52 228.78,847.17 229.79,846.86 230.79,846.58 231.8,846.34 232.81,846.15 233.82,846.06 234.83,846.09 235.84,846.19 236.85,846.37 237.86,846.59 238.87,846.85 239.88,847.11 240.89,847.38 241.9,847.7 242.91,848.06 243.92,848.47 244.92,848.92 245.93,849.41 246.94,849.92 247.95,850.46 248.96,851.04 249.97,851.63 250.98,852.24 251.99,852.86 253,853.5 254.01,854.14 255.02,854.79 256.03,855.45 257.04,856.1 258.04,856.77 259.05,857.44 260.06,858.12 261.07,858.82 262.08,859.51 263.09,860.2 264.1,860.87 265.11,861.53 266.12,862.2 267.13,862.87 268.14,863.57 269.15,864.29 270.16,865.05 271.16,865.85 272.17,866.69 273.18,867.54 274.19,868.39 275.2,869.23 276.21,870.07 277.22,870.91 278.23,871.75 279.24,872.58 280.25,873.41 281.26,874.24 282.27,875.06 283.28,875.86 284.29,876.66 285.29,877.44 286.3,878.2 287.31,878.92 288.32,879.62 289.33,880.28 290.34,880.92 291.35,881.54 292.36,882.13 293.37,882.71 294.38,883.27 295.39,883.82 296.4,884.36 297.41,884.88 298.41,885.4 299.42,885.9 300.43,886.41 301.44,886.9 302.45,887.38 303.46,887.86 304.47,888.32 305.48,888.76 306.49,889.19 307.5,889.6 308.51,890 309.52,890.38 310.53,890.74 311.53,891.08 312.54,891.4 313.55,891.72 314.56,892.03 315.57,892.34 316.58,892.66 317.59,892.97 318.6,893.29 319.61,893.62 320.62,893.96 321.63,894.3 322.64,894.66 323.65,895.03 324.66,895.41 325.66,895.8 326.67,896.21 327.68,896.63 328.69,897.06 329.7,897.49 330.71,897.93 331.72,898.37 332.73,898.82 333.74,899.27 334.75,899.73 335.76,900.2 336.77,900.67 337.78,901.14 338.78,901.62 339.79,902.09 340.8,902.57 341.81,903.04 342.82,903.51 343.83,903.99 344.84,904.46 345.85,904.93 346.86,905.4 347.87,905.87 348.88,906.33 349.89,906.79 350.9,907.25 351.9,907.7 352.91,908.15 353.92,908.6 354.93,909.04 355.94,909.49 356.95,909.93 357.96,910.38 358.97,910.83 359.98,911.28 360.99,911.72 362,912.16 363.01,912.6 364.02,913.03 365.03,913.45 366.03,913.88 367.04,914.3 368.05,914.72 369.06,915.14 370.07,915.56 371.08,915.98 372.09,916.41 373.1,916.84 374.11,917.28 375.12,917.72 376.13,918.17 377.14,918.61 378.15,919.04 379.15,919.47 380.16,919.9 381.17,920.31 382.18,920.7 383.19,921.09 384.2,921.46 385.21,921.82 386.22,922.17 387.23,922.51 388.24,922.85 389.25,923.17 390.26,923.5 391.27,923.81 392.27,924.12 393.28,924.43 394.29,924.73 395.3,925.03 396.31,925.32 397.32,925.6 398.33,925.89 399.34,926.16 400.35,926.43 401.36,926.7 402.37,926.95 403.38,927.21 404.39,927.46 405.4,927.7 406.4,927.94 407.41,928.18 408.42,928.41 409.43,928.64 410.44,928.87 411.45,929.09 412.46,929.31 413.47,929.53 414.48,929.75 415.49,929.96 416.5,930.16 417.51,930.37 418.52,930.56 419.52,930.76 420.53,930.94 421.54,931.13 422.55,931.31 423.56,931.48 424.57,931.65 425.58,931.82 426.59,931.98 427.6,932.14 428.61,932.29 429.62,932.44 430.63,932.58 431.64,932.73 432.64,932.87 433.65,933.01 434.66,933.14 435.67,933.28 436.68,933.41 437.69,933.55 438.7,933.68 439.71,933.8 440.72,933.93 441.73,934.05 442.74,934.17 443.75,934.29 444.76,934.41 445.77,934.52 446.77,934.63 447.78,934.73 448.79,934.83 449.8,934.93 450.81,935.02 451.82,935.11 452.83,935.2 453.84,935.28 454.85,935.37 455.86,935.45 456.87,935.53 457.88,935.6 458.89,935.68 459.89,935.75 460.9,935.82 461.91,935.89 462.92,935.96 463.93,936.02 464.94,936.08 465.95,936.14 466.96,936.2 467.97,936.25 468.98,936.31 469.99,936.36 471,936.41 472.01,936.46 473.01,936.5 474.02,936.55 475.03,936.59 476.04,936.63 477.05,936.68 478.06,936.72 479.07,936.76 480.08,936.81 481.09,936.85 482.1,936.89 483.11,936.94 484.12,936.98 485.13,937.03 486.14,937.08 487.14,937.14 488.15,937.19 489.16,937.25 490.17,937.3 491.18,937.36 492.19,937.41 493.2,937.45 494.21,937.5 495.22,937.54 496.23,937.57 497.24,937.61 498.25,937.64 499.26,937.68 500.26,937.71 501.27,937.74 502.28,937.77 503.29,937.79 504.3,937.82 505.31,937.85 506.32,937.87 507.33,937.9 508.34,937.93 509.35,937.95 510.36,937.97 511.37,938 512.38,938.02 513.38,938.04 514.39,938.06 515.4,938.08 516.41,938.1 517.42,938.12 518.43,938.15 519.44,938.17 520.45,938.19 521.46,938.21 522.47,938.23 523.48,938.25 524.49,938.27 525.5,938.3 526.51,938.33 527.51,938.36 528.52,938.41 529.53,938.48 530.54,938.56 531.55,938.68 532.56,938.82 533.57,938.98 534.58,939.15 535.59,939.29 536.6,939.41 537.61,939.5 538.62,939.57 539.63,939.61 540.63,939.65 541.64,939.67 542.65,939.69 543.66,939.71 544.67,939.73 545.68,939.74 546.69,939.76 547.7,939.77 548.71,939.78 549.72,939.8 550.73,939.81 551.74,939.82 552.75,939.83 553.75,939.84 554.76,939.85 555.77,939.86 556.78,939.87 557.79,939.88 558.8,939.89 559.81,939.9 560.82,939.91 561.83,939.91 562.84,939.92 563.85,939.93 564.86,939.94 565.87,939.94 566.88,939.95 567.88,939.96 568.89,939.96 569.9,939.97 570.91,939.98 571.92,939.98 572.93,939.99 573.94,940 574.95,940 575.96,940.01 576.97,940.02 577.98,940.03 578.99,940.04 580,940.05 581,940.07 582.01,940.1 583.02,940.14 584.03,940.2 585.04,940.28 586.05,940.39 587.06,940.51 588.07,940.63 589.08,940.73 590.09,940.81 591.1,940.86 592.11,940.9 593.12,940.93 594.12,940.94 595.13,940.95 596.14,940.96 597.15,940.97 598.16,940.97 599.17,940.98 600.18,940.98 601.19,940.98 602.2,940.99 603.21,940.99 604.22,940.99 605.23,940.99 606.24,940.99 607.25,940.99 608.25,941 609.26,941 610.27,941 611.28,941 612.29,941 613.3,941 614.31,941" fill="none" stroke="#C44000" stroke-width="1.6" stroke-linejoin="round"/>
<polyline points="89.5,942.18 90.51,942.1 91.52,942.02 92.53,941.93 93.54,941.84 94.55,941.74 95.56,941.65 96.56,941.55 97.57,941.44 98.58,941.34 99.59,941.23 100.6,941.12 101.61,941.01 102.62,940.89 103.63,940.76 104.64,940.63 105.65,940.5 106.66,940.37 107.67,940.23 108.68,940.1 109.69,939.96 110.69,939.81 111.7,939.64 112.71,939.52 113.72,939.38 114.73,939.24 115.74,939.09 116.75,938.96 117.76,938.82 118.77,938.71 119.78,938.61 120.79,938.51 121.8,938.4 122.81,938.27 123.81,938.12 124.82,937.95 125.83,937.77 126.84,937.57 127.85,937.35 128.86,937.11 129.87,936.86 130.88,936.6 131.89,936.32 132.9,936.04 133.91,935.73 134.92,935.42 135.93,935.09 136.93,934.76 137.94,934.41 138.95,934.05 139.96,933.69 140.97,933.31 141.98,932.92 142.99,932.51 144,932.1 145.01,931.66 146.02,931.21 147.03,930.74 148.04,930.24 149.05,929.72 150.06,929.17 151.06,928.61 152.07,928.03 153.08,927.44 154.09,926.83 155.1,926.2 156.11,925.57 157.12,924.92 158.13,924.26 159.14,923.59 160.15,922.91 161.16,922.23 162.17,921.53 163.18,920.8 164.18,920.06 165.19,919.28 166.2,918.49 167.21,917.67 168.22,916.83 169.23,915.96 170.24,915.08 171.25,914.17 172.26,913.24 173.27,912.3 174.28,911.34 175.29,910.37 176.3,909.38 177.3,908.38 178.31,907.37 179.32,906.32 180.33,905.26 181.34,904.18 182.35,903.08 183.36,901.98 184.37,900.87 185.38,899.76 186.39,898.66 187.4,897.56 188.41,896.47 189.42,895.38 190.43,894.31 191.43,893.26 192.44,892.22 193.45,891.2 194.46,890.17 195.47,889.12 196.48,888.07 197.49,887.01 198.5,885.95 199.51,884.9 200.52,883.85 201.53,882.83 202.54,881.83 203.55,880.87 204.55,879.94 205.56,879.05 206.57,878.21 207.58,877.41 208.59,876.65 209.6,875.94 210.61,875.22 211.62,874.51 212.63,873.81 213.64,873.13 214.65,872.46 215.66,871.81 216.67,871.19 217.67,870.59 218.68,870.02 219.69,869.47 220.7,868.96 221.71,868.49 222.72,868.07 223.73,867.69 224.74,867.36 225.75,867.07 226.76,866.79 227.77,866.54 228.78,866.3 229.79,866.09 230.79,865.9 231.8,865.74 232.81,865.62 233.82,865.59 234.83,865.64 235.84,865.77 236.85,865.94 237.86,866.16 238.87,866.4 239.88,866.64 240.89,866.88 241.9,867.16 242.91,867.47 243.92,867.82 244.92,868.2 245.93,868.6 246.94,869.03 247.95,869.47 248.96,869.94 249.97,870.41 250.98,870.9 251.99,871.39 253,871.89 254.01,872.38 255.02,872.88 256.03,873.36 257.04,873.84 258.04,874.32 259.05,874.8 260.06,875.28 261.07,875.76 262.08,876.25 263.09,876.74 264.1,877.23 265.11,877.72 266.12,878.21 267.13,878.72 268.14,879.24 269.15,879.78 270.16,880.34 271.16,880.94 272.17,881.55 273.18,882.19 274.19,882.83 275.2,883.48 276.21,884.13 277.22,884.78 278.23,885.44 279.24,886.09 280.25,886.75 281.26,887.4 282.27,888.04 283.28,888.68 284.29,889.31 285.29,889.92 286.3,890.52 287.31,891.09 288.32,891.64 289.33,892.18 290.34,892.69 291.35,893.19 292.36,893.68 293.37,894.16 294.38,894.64 295.39,895.1 296.4,895.56 297.41,896.01 298.41,896.46 299.42,896.92 300.43,897.37 301.44,897.83 302.45,898.29 303.46,898.74 304.47,899.19 305.48,899.64 306.49,900.08 307.5,900.51 308.51,900.92 309.52,901.33 310.53,901.71 311.53,902.08 312.54,902.43 313.55,902.77 314.56,903.1 315.57,903.41 316.58,903.72 317.59,904.02 318.6,904.31 319.61,904.6 320.62,904.89 321.63,905.18 322.64,905.47 323.65,905.76 324.66,906.05 325.66,906.35 326.67,906.65 327.68,906.96 328.69,907.28 329.7,907.59 330.71,907.9 331.72,908.22 332.73,908.54 333.74,908.85 334.75,909.18 335.76,909.5 336.77,909.83 337.78,910.15 338.78,910.48 339.79,910.81 340.8,911.14 341.81,911.47 342.82,911.81 343.83,912.14 344.84,912.48 345.85,912.82 346.86,913.17 347.87,913.51 348.88,913.86 349.89,914.22 350.9,914.57 351.9,914.93 352.91,915.28 353.92,915.64 354.93,916 355.94,916.37 356.95,916.74 357.96,917.11 358.97,917.48 359.98,917.86 360.99,918.23 362,918.61 363.01,918.98 364.02,919.34 365.03,919.71 366.03,920.07 367.04,920.42 368.05,920.77 369.06,921.12 370.07,921.46 371.08,921.8 372.09,922.15 373.1,922.49 374.11,922.83 375.12,923.16 376.13,923.5 377.14,923.82 378.15,924.15 379.15,924.46 380.16,924.76 381.17,925.06 382.18,925.35 383.19,925.62 384.2,925.88 385.21,926.14 386.22,926.39 387.23,926.64 388.24,926.88 389.25,927.12 390.26,927.35 391.27,927.58 392.27,927.81 393.28,928.04 394.29,928.27 395.3,928.49 396.31,928.71 397.32,928.93 398.33,929.15 399.34,929.36 400.35,929.57 401.36,929.77 402.37,929.97 403.38,930.17 404.39,930.36 405.4,930.54 406.4,930.72 407.41,930.9 408.42,931.07 409.43,931.24 410.44,931.41 411.45,931.57 412.46,931.72 413.47,931.88 414.48,932.03 415.49,932.18 416.5,932.32 417.51,932.47 418.52,932.61 419.52,932.75 420.53,932.88 421.54,933.02 422.55,933.15 423.56,933.28 424.57,933.41 425.58,933.54 426.59,933.67 427.6,933.79 428.61,933.91 429.62,934.03 430.63,934.15 431.64,934.26 432.64,934.38 433.65,934.49 434.66,934.61 435.67,934.72 436.68,934.84 437.69,934.95 438.7,935.06 439.71,935.17 440.72,935.28 441.73,935.39 442.74,935.49 443.75,935.6 444.76,935.7 445.77,935.8 446.77,935.9 447.78,936 448.79,936.09 449.8,936.18 450.81,936.26 451.82,936.35 452.83,936.43 453.84,936.51 454.85,936.59 455.86,936.66 456.87,936.74 457.88,936.81 458.89,936.88 459.89,936.95 460.9,937.01 461.91,937.07 462.92,937.14 463.93,937.19 464.94,937.25 465.95,937.31 466.96,937.36 467.97,937.41 468.98,937.46 469.99,937.5 471,937.55 472.01,937.59 473.01,937.63 474.02,937.67 475.03,937.71 476.04,937.75 477.05,937.78 478.06,937.82 479.07,937.86 480.08,937.89 481.09,937.93 482.1,937.96 483.11,938 484.12,938.04 485.13,938.07 486.14,938.11 487.14,938.15 488.15,938.19 489.16,938.23 490.17,938.27 491.18,938.31 492.19,938.35 493.2,938.38 494.21,938.41 495.22,938.44 496.23,938.47 497.24,938.49 498.25,938.51 499.26,938.54 500.26,938.56 501.27,938.58 502.28,938.6 503.29,938.62 504.3,938.64 505.31,938.66 506.32,938.68 507.33,938.7 508.34,938.72 509.35,938.74 510.36,938.75 511.37,938.77 512.38,938.78 513.38,938.8 514.39,938.82 515.4,938.83 516.41,938.85 517.42,938.86 518.43,938.87 519.44,938.89 520.45,938.9 521.46,938.92 522.47,938.93 523.48,938.95 524.49,938.96 525.5,938.98 526.51,939 527.51,939.02 528.52,939.05 529.53,939.09 530.54,939.15 531.55,939.22 532.56,939.31 533.57,939.41 534.58,939.51 535.59,939.6 536.6,939.68 537.61,939.73 538.62,939.77 539.63,939.8 540.63,939.82 541.64,939.84 542.65,939.86 543.66,939.87 544.67,939.88 545.68,939.89 546.69,939.9 547.7,939.91 548.71,939.92 549.72,939.93 550.73,939.93 551.74,939.94 552.75,939.95 553.75,939.96 554.76,939.97 555.77,939.97 556.78,939.98 557.79,939.99 558.8,939.99 559.81,940 560.82,940 561.83,940.01 562.84,940.02 563.85,940.02 564.86,940.03 565.87,940.03 566.88,940.04 567.88,940.04 568.89,940.05 569.9,940.05 570.91,940.06 571.92,940.06 572.93,940.07 573.94,940.07 574.95,940.08 575.96,940.08 576.97,940.09 577.98,940.09 578.99,940.1 580,940.12 581,940.13 582.01,940.16 583.02,940.2 584.03,940.25 585.04,940.33 586.05,940.43 587.06,940.54 588.07,940.65 589.08,940.75 590.09,940.82 591.1,940.88 592.11,940.91 593.12,940.94 594.12,940.95 595.13,940.96 596.14,940.97 597.15,940.97 598.16,940.98 599.17,940.98 600.18,940.98 601.19,940.99 602.2,940.99 603.21,940.99 604.22,940.99 605.23,940.99 606.24,940.99 607.25,941 608.25,941 609.26,941 610.27,941 611.28,941 612.29,941 613.3,941 614.31,941" fill="none" stroke="#008B8B" stroke-width="1.6" stroke-linejoin="round"/>
<polyline points="89.5,941.75 90.51,941.68 91.52,941.61 92.53,941.53 93.54,941.45 94.55,941.36 95.56,941.27 96.56,941.18 97.57,941.08 98.58,940.98 99.59,940.88 100.6,940.78 101.61,940.67 102.62,940.55 103.63,940.44 104.64,940.32 105.65,940.2 106.66,940.08 107.67,939.96 108.68,939.84 109.69,939.73 110.69,939.61 111.7,939.48 112.71,939.4 113.72,939.3 114.73,939.19 115.74,939.08 116.75,938.97 117.76,938.86 118.77,938.75 119.78,938.65 120.79,938.55 121.8,938.43 122.81,938.3 123.81,938.17 124.82,938.02 125.83,937.86 126.84,937.7 127.85,937.52 128.86,937.34 129.87,937.16 130.88,936.97 131.89,936.77 132.9,936.57 133.91,936.36 134.92,936.15 135.93,935.93 136.93,935.7 137.94,935.47 138.95,935.23 139.96,934.98 140.97,934.72 141.98,934.45 142.99,934.17 144,933.88 145.01,933.58 146.02,933.27 147.03,932.93 148.04,932.58 149.05,932.21 150.06,931.83 151.06,931.43 152.07,931.02 153.08,930.6 154.09,930.16 155.1,929.71 156.11,929.26 157.12,928.79 158.13,928.32 159.14,927.85 160.15,927.37 161.16,926.89 162.17,926.41 163.18,925.91 164.18,925.41 165.19,924.9 166.2,924.38 167.21,923.85 168.22,923.32 169.23,922.79 170.24,922.25 171.25,921.71 172.26,921.17 173.27,920.63 174.28,920.09 175.29,919.56 176.3,919.03 177.3,918.5 178.31,917.96 179.32,917.42 180.33,916.88 181.34,916.33 182.35,915.78 183.36,915.23 184.37,914.68 185.38,914.13 186.39,913.59 187.4,913.05 188.41,912.52 189.42,912.01 190.43,911.5 191.43,911 192.44,910.52 193.45,910.05 194.46,909.58 195.47,909.1 196.48,908.61 197.49,908.12 198.5,907.64 199.51,907.16 200.52,906.69 201.53,906.22 202.54,905.78 203.55,905.34 204.55,904.93 205.56,904.54 206.57,904.17 207.58,903.83 208.59,903.52 209.6,903.23 210.61,902.93 211.62,902.63 212.63,902.32 213.64,902.01 214.65,901.69 215.66,901.38 216.67,901.09 217.67,900.8 218.68,900.54 219.69,900.3 220.7,900.09 221.71,899.91 222.72,899.76 223.73,899.64 224.74,899.56 225.75,899.49 226.76,899.43 227.77,899.37 228.78,899.32 229.79,899.28 230.79,899.26 231.8,899.24 232.81,899.24 233.82,899.29 234.83,899.39 235.84,899.52 236.85,899.69 237.86,899.87 238.87,900.05 239.88,900.24 240.89,900.41 241.9,900.61 242.91,900.82 243.92,901.05 244.92,901.29 245.93,901.54 246.94,901.8 247.95,902.07 248.96,902.34 249.97,902.61 250.98,902.88 251.99,903.15 253,903.4 254.01,903.64 255.02,903.87 256.03,904.08 257.04,904.28 258.04,904.49 259.05,904.7 260.06,904.92 261.07,905.15 262.08,905.39 263.09,905.63 264.1,905.88 265.11,906.14 266.12,906.4 267.13,906.67 268.14,906.95 269.15,907.24 270.16,907.53 271.16,907.84 272.17,908.16 273.18,908.5 274.19,908.84 275.2,909.19 276.21,909.55 277.22,909.91 278.23,910.27 279.24,910.64 280.25,911 281.26,911.37 282.27,911.73 283.28,912.08 284.29,912.43 285.29,912.76 286.3,913.09 287.31,913.41 288.32,913.71 289.33,914 290.34,914.29 291.35,914.57 292.36,914.85 293.37,915.12 294.38,915.39 295.39,915.65 296.4,915.91 297.41,916.17 298.41,916.43 299.42,916.69 300.43,916.94 301.44,917.2 302.45,917.45 303.46,917.7 304.47,917.95 305.48,918.19 306.49,918.42 307.5,918.64 308.51,918.86 309.52,919.07 310.53,919.27 311.53,919.47 312.54,919.65 313.55,919.83 314.56,920 315.57,920.18 316.58,920.35 317.59,920.52 318.6,920.69 319.61,920.86 320.62,921.03 321.63,921.21 322.64,921.38 323.65,921.56 324.66,921.75 325.66,921.94 326.67,922.14 327.68,922.34 328.69,922.54 329.7,922.75 330.71,922.95 331.72,923.16 332.73,923.37 333.74,923.58 334.75,923.78 335.76,923.99 336.77,924.2 337.78,924.41 338.78,924.61 339.79,924.82 340.8,925.02 341.81,925.23 342.82,925.43 343.83,925.63 344.84,925.84 345.85,926.04 346.86,926.24 347.87,926.44 348.88,926.65 349.89,926.85 350.9,927.04 351.9,927.24 352.91,927.43 353.92,927.63 354.93,927.82 355.94,928 356.95,928.19 357.96,928.37 358.97,928.56 359.98,928.74 360.99,928.91 362,929.09 363.01,929.26 364.02,929.43 365.03,929.6 366.03,929.77 367.04,929.93 368.05,930.09 369.06,930.25 370.07,930.41 371.08,930.58 372.09,930.74 373.1,930.9 374.11,931.07 375.12,931.23 376.13,931.4 377.14,931.57 378.15,931.73 379.15,931.89 380.16,932.05 381.17,932.21 382.18,932.36 383.19,932.51 384.2,932.65 385.21,932.8 386.22,932.94 387.23,933.08 388.24,933.22 389.25,933.35 390.26,933.49 391.27,933.62 392.27,933.75 393.28,933.87 394.29,934 395.3,934.12 396.31,934.24 397.32,934.36 398.33,934.47 399.34,934.59 400.35,934.69 401.36,934.8 402.37,934.9 403.38,935 404.39,935.1 405.4,935.2 406.4,935.29 407.41,935.38 408.42,935.47 409.43,935.56 410.44,935.65 411.45,935.73 412.46,935.82 413.47,935.91 414.48,935.99 415.49,936.08 416.5,936.17 417.51,936.26 418.52,936.35 419.52,936.44 420.53,936.53 421.54,936.62 422.55,936.7 423.56,936.79 424.57,936.88 425.58,936.96 426.59,937.04 427.6,937.13 428.61,937.21 429.62,937.29 430.63,937.36 431.64,937.44 432.64,937.51 433.65,937.59 434.66,937.66 435.67,937.73 436.68,937.8 437.69,937.87 438.7,937.94 439.71,938.01 440.72,938.08 441.73,938.14 442.74,938.2 443.75,938.26 444.76,938.32 445.77,938.38 446.77,938.43 447.78,938.49 448.79,938.54 449.8,938.58 450.81,938.63 451.82,938.67 452.83,938.71 453.84,938.75 454.85,938.79 455.86,938.83 456.87,938.87 457.88,938.9 458.89,938.93 459.89,938.97 460.9,939 461.91,939.03 462.92,939.05 463.93,939.08 464.94,939.11 465.95,939.13 466.96,939.16 467.97,939.18 468.98,939.21 469.99,939.23 471,939.25 472.01,939.27 473.01,939.29 474.02,939.31 475.03,939.33 476.04,939.34 477.05,939.36 478.06,939.37 479.07,939.39 480.08,939.4 481.09,939.41 482.1,939.42 483.11,939.43 484.12,939.43 485.13,939.43 486.14,939.42 487.14,939.41 488.15,939.39 489.16,939.37 490.17,939.35 491.18,939.33 492.19,939.32 493.2,939.31 494.21,939.31 495.22,939.31 496.23,939.31 497.24,939.31 498.25,939.32 499.26,939.33 500.26,939.34 501.27,939.35 502.28,939.36 503.29,939.36 504.3,939.37 505.31,939.38 506.32,939.39 507.33,939.4 508.34,939.41 509.35,939.42 510.36,939.43 511.37,939.43 512.38,939.44 513.38,939.45 514.39,939.46 515.4,939.46 516.41,939.47 517.42,939.48 518.43,939.48 519.44,939.49 520.45,939.5 521.46,939.5 522.47,939.51 523.48,939.52 524.49,939.53 525.5,939.54 526.51,939.55 527.51,939.56 528.52,939.58 529.53,939.61 530.54,939.64 531.55,939.69 532.56,939.76 533.57,939.83 534.58,939.9 535.59,939.96 536.6,940.01 537.61,940.05 538.62,940.08 539.63,940.1 540.63,940.11 541.64,940.12 542.65,940.13 543.66,940.14 544.67,940.14 545.68,940.15 546.69,940.15 547.7,940.16 548.71,940.16 549.72,940.16 550.73,940.17 551.74,940.17 552.75,940.18 553.75,940.18 554.76,940.18 555.77,940.19 556.78,940.19 557.79,940.19 558.8,940.2 559.81,940.2 560.82,940.2 561.83,940.21 562.84,940.21 563.85,940.21 564.86,940.21 565.87,940.22 566.88,940.22 567.88,940.22 568.89,940.22 569.9,940.23 570.91,940.23 571.92,940.23 572.93,940.23 573.94,940.24 574.95,940.24 575.96,940.24 576.97,940.25 577.98,940.25 578.99,940.26 580,940.27 581,940.28 582.01,940.3 583.02,940.33 584.03,940.38 585.04,940.44 586.05,940.53 587.06,940.62 588.07,940.72 589.08,940.8 590.09,940.86 591.1,940.91 592.11,940.94 593.12,940.95 594.12,940.97 595.13,940.98 596.14,940.98 597.15,940.98 598.16,940.99 599.17,940.99 600.18,940.99 601.19,940.99 602.2,940.99 603.21,940.99 604.22,941 605.23,941 606.24,941 607.25,941 608.25,941 609.26,941 610.27,941 611.28,941 612.29,941 613.3,941 614.31,941" fill="none" stroke="#4F44B0" stroke-width="1.6" stroke-linejoin="round"/>
<polyline points="89.5,938.37 90.51,938.5 91.52,938.63 92.53,938.75 93.54,938.86 94.55,938.97 95.56,939.07 96.56,939.16 97.57,939.25 98.58,939.34 99.59,939.41 100.6,939.48 101.61,939.54 102.62,939.6 103.63,939.65 104.64,939.69 105.65,939.72 106.66,939.75 107.67,939.77 108.68,939.78 109.69,939.78 110.69,939.78 111.7,939.76 112.71,939.74 113.72,939.71 114.73,939.67 115.74,939.62 116.75,939.57 117.76,939.51 118.77,939.45 119.78,939.39 120.79,939.32 121.8,939.25 122.81,939.18 123.81,939.1 124.82,939.03 125.83,938.96 126.84,938.89 127.85,938.82 128.86,938.76 129.87,938.7 130.88,938.64 131.89,938.58 132.9,938.52 133.91,938.46 134.92,938.39 135.93,938.33 136.93,938.27 137.94,938.2 138.95,938.14 139.96,938.07 140.97,938.01 141.98,937.94 142.99,937.88 144,937.81 145.01,937.74 146.02,937.68 147.03,937.61 148.04,937.54 149.05,937.48 150.06,937.41 151.06,937.34 152.07,937.28 153.08,937.21 154.09,937.15 155.1,937.08 156.11,937.01 157.12,936.95 158.13,936.89 159.14,936.82 160.15,936.76 161.16,936.7 162.17,936.63 163.18,936.57 164.18,936.5 165.19,936.44 166.2,936.37 167.21,936.31 168.22,936.24 169.23,936.17 170.24,936.11 171.25,936.04 172.26,935.97 173.27,935.9 174.28,935.84 175.29,935.77 176.3,935.71 177.3,935.64 178.31,935.58 179.32,935.51 180.33,935.45 181.34,935.39 182.35,935.33 183.36,935.27 184.37,935.21 185.38,935.15 186.39,935.1 187.4,935.05 188.41,935 189.42,934.95 190.43,934.9 191.43,934.86 192.44,934.81 193.45,934.77 194.46,934.73 195.47,934.69 196.48,934.65 197.49,934.61 198.5,934.57 199.51,934.53 200.52,934.49 201.53,934.45 202.54,934.42 203.55,934.39 204.55,934.36 205.56,934.34 206.57,934.32 207.58,934.31 208.59,934.31 209.6,934.31 210.61,934.32 211.62,934.33 212.63,934.36 213.64,934.38 214.65,934.41 215.66,934.45 216.67,934.49 217.67,934.52 218.68,934.57 219.69,934.61 220.7,934.65 221.71,934.69 222.72,934.73 223.73,934.76 224.74,934.8 225.75,934.83 226.76,934.86 227.77,934.89 228.78,934.93 229.79,934.96 230.79,934.99 231.8,935.03 232.81,935.06 233.82,935.09 234.83,935.13 235.84,935.16 236.85,935.19 237.86,935.23 238.87,935.26 239.88,935.29 240.89,935.33 241.9,935.36 242.91,935.4 243.92,935.43 244.92,935.47 245.93,935.5 246.94,935.54 247.95,935.57 248.96,935.61 249.97,935.65 250.98,935.68 251.99,935.72 253,935.76 254.01,935.79 255.02,935.83 256.03,935.87 257.04,935.91 258.04,935.95 259.05,935.99 260.06,936.03 261.07,936.07 262.08,936.11 263.09,936.15 264.1,936.2 265.11,936.24 266.12,936.28 267.13,936.33 268.14,936.37 269.15,936.41 270.16,936.46 271.16,936.5 272.17,936.55 273.18,936.59 274.19,936.64 275.2,936.68 276.21,936.73 277.22,936.77 278.23,936.81 279.24,936.86 280.25,936.9 281.26,936.94 282.27,936.99 283.28,937.03 284.29,937.07 285.29,937.11 286.3,937.15 287.31,937.19 288.32,937.23 289.33,937.27 290.34,937.31 291.35,937.35 292.36,937.38 293.37,937.42 294.38,937.46 295.39,937.5 296.4,937.54 297.41,937.58 298.41,937.61 299.42,937.65 300.43,937.69 301.44,937.73 302.45,937.76 303.46,937.8 304.47,937.84 305.48,937.87 306.49,937.91 307.5,937.95 308.51,937.98 309.52,938.02 310.53,938.05 311.53,938.09 312.54,938.13 313.55,938.16 314.56,938.2 315.57,938.23 316.58,938.26 317.59,938.3 318.6,938.33 319.61,938.37 320.62,938.4 321.63,938.43 322.64,938.46 323.65,938.5 324.66,938.53 325.66,938.56 326.67,938.59 327.68,938.62 328.69,938.65 329.7,938.68 330.71,938.71 331.72,938.74 332.73,938.77 333.74,938.8 334.75,938.83 335.76,938.86 336.77,938.89 337.78,938.92 338.78,938.95 339.79,938.98 340.8,939 341.81,939.03 342.82,939.06 343.83,939.09 344.84,939.11 345.85,939.14 346.86,939.17 347.87,939.19 348.88,939.22 349.89,939.25 350.9,939.27 351.9,939.3 352.91,939.32 353.92,939.35 354.93,939.38 355.94,939.4 356.95,939.43 357.96,939.45 358.97,939.48 359.98,939.5 360.99,939.53 362,939.55 363.01,939.57 364.02,939.6 365.03,939.62 366.03,939.64 367.04,939.67 368.05,939.69 369.06,939.71 370.07,939.74 371.08,939.76 372.09,939.78 373.1,939.81 374.11,939.83 375.12,939.85 376.13,939.88 377.14,939.9 378.15,939.92 379.15,939.95 380.16,939.97 381.17,939.99 382.18,940.02 383.19,940.04 384.2,940.07 385.21,940.09 386.22,940.11 387.23,940.14 388.24,940.16 389.25,940.18 390.26,940.21 391.27,940.23 392.27,940.25 393.28,940.27 394.29,940.29 395.3,940.31 396.31,940.33 397.32,940.36 398.33,940.38 399.34,940.39 400.35,940.41 401.36,940.43 402.37,940.45 403.38,940.47 404.39,940.48 405.4,940.5 406.4,940.51 407.41,940.53 408.42,940.54 409.43,940.56 410.44,940.57 411.45,940.58 412.46,940.59 413.47,940.6 414.48,940.61 415.49,940.62 416.5,940.63 417.51,940.64 418.52,940.65 419.52,940.66 420.53,940.67 421.54,940.68 422.55,940.68 423.56,940.69 424.57,940.7 425.58,940.71 426.59,940.72 427.6,940.73 428.61,940.74 429.62,940.75 430.63,940.75 431.64,940.76 432.64,940.77 433.65,940.78 434.66,940.79 435.67,940.8 436.68,940.8 437.69,940.81 438.7,940.82 439.71,940.83 440.72,940.83 441.73,940.84 442.74,940.85 443.75,940.86 444.76,940.86 445.77,940.87 446.77,940.88 447.78,940.88 448.79,940.89 449.8,940.9 450.81,940.9 451.82,940.91 452.83,940.92 453.84,940.92 454.85,940.93 455.86,940.94 456.87,940.94 457.88,940.95 458.89,940.96 459.89,940.96 460.9,940.97 461.91,940.97 462.92,940.98 463.93,940.99 464.94,940.99 465.95,941 466.96,941 467.97,941.01 468.98,941.01 469.99,941.02 471,941.02 472.01,941.03 473.01,941.03 474.02,941.04 475.03,941.04 476.04,941.05 477.05,941.05 478.06,941.06 479.07,941.06 480.08,941.07 481.09,941.07 482.1,941.08 483.11,941.08 484.12,941.09 485.13,941.09 486.14,941.1 487.14,941.1 488.15,941.1 489.16,941.11 490.17,941.11 491.18,941.12 492.19,941.12 493.2,941.12 494.21,941.13 495.22,941.13 496.23,941.14 497.24,941.14 498.25,941.14 499.26,941.15 500.26,941.15 501.27,941.15 502.28,941.16 503.29,941.16 504.3,941.16 505.31,941.17 506.32,941.17 507.33,941.17 508.34,941.18 509.35,941.18 510.36,941.18 511.37,941.19 512.38,941.19 513.38,941.19 514.39,941.2 515.4,941.2 516.41,941.2 517.42,941.21 518.43,941.21 519.44,941.21 520.45,941.21 521.46,941.22 522.47,941.22 523.48,941.22 524.49,941.23 525.5,941.23 526.51,941.23 527.51,941.24 528.52,941.24 529.53,941.24 530.54,941.24 531.55,941.25 532.56,941.25 533.57,941.25 534.58,941.26 535.59,941.26 536.6,941.26 537.61,941.26 538.62,941.27 539.63,941.27 540.63,941.27 541.64,941.28 542.65,941.28 543.66,941.28 544.67,941.28 545.68,941.29 546.69,941.29 547.7,941.29 548.71,941.29 549.72,941.3 550.73,941.3 551.74,941.3 552.75,941.31 553.75,941.31 554.76,941.31 555.77,941.31 556.78,941.32 557.79,941.32 558.8,941.32 559.81,941.32 560.82,941.32 561.83,941.33 562.84,941.33 563.85,941.33 564.86,941.33 565.87,941.34 566.88,941.34 567.88,941.34 568.89,941.34 569.9,941.34 570.91,941.35 571.92,941.35 572.93,941.35 573.94,941.35 574.95,941.35 575.96,941.36 576.97,941.36 577.98,941.36 578.99,941.36 580,941.36 581,941.37 582.01,941.37 583.02,941.37 584.03,941.37 585.04,941.37 586.05,941.37 587.06,941.37 588.07,941.38 589.08,941.38 590.09,941.38 591.1,941.38 592.11,941.38 593.12,941.38 594.12,941.38 595.13,941.38 596.14,941.39 597.15,941.39 598.16,941.39 599.17,941.39 600.18,941.39 601.19,941.39 602.2,941.39 603.21,941.39 604.22,941.39 605.23,941.39 606.24,941.39 607.25,941.39 608.25,941.39 609.26,941.39 610.27,941.39 611.28,941.39 612.29,941.39 613.3,941.39 614.31,941.39" fill="none" stroke="#8C6E64" stroke-width="1.6" stroke-linejoin="round"/>
<rect x="89.5" y="519.4" width="524.8" height="422.8" fill="none" stroke="#000" stroke-width="1.45"/>
<line x1="81.2" y1="942.2" x2="89.5" y2="942.2" stroke="#000" stroke-width="1.6"/>
<text transform="translate(75.1,947.4) scale(1,1.04)" font-size="18" text-anchor="end">0.0</text>
<line x1="81.2" y1="861.66" x2="89.5" y2="861.66" stroke="#000" stroke-width="1.6"/>
<text transform="translate(75.1,866.86) scale(1,1.04)" font-size="18" text-anchor="end">0.2</text>
<line x1="81.2" y1="781.12" x2="89.5" y2="781.12" stroke="#000" stroke-width="1.6"/>
<text transform="translate(75.1,786.32) scale(1,1.04)" font-size="18" text-anchor="end">0.4</text>
<line x1="81.2" y1="700.58" x2="89.5" y2="700.58" stroke="#000" stroke-width="1.6"/>
<text transform="translate(75.1,705.78) scale(1,1.04)" font-size="18" text-anchor="end">0.6</text>
<line x1="81.2" y1="620.04" x2="89.5" y2="620.04" stroke="#000" stroke-width="1.6"/>
<text transform="translate(75.1,625.24) scale(1,1.04)" font-size="18" text-anchor="end">0.8</text>
<line x1="81.2" y1="539.5" x2="89.5" y2="539.5" stroke="#000" stroke-width="1.6"/>
<text transform="translate(75.1,544.7) scale(1,1.04)" font-size="18" text-anchor="end">1.0</text>
<line x1="109.69" y1="942.2" x2="109.69" y2="950.5" stroke="#000" stroke-width="1.6"/>
<text transform="translate(109.69,970) scale(1,1.04)" font-size="18" text-anchor="middle">550</text>
<line x1="210.61" y1="942.2" x2="210.61" y2="950.5" stroke="#000" stroke-width="1.6"/>
<text transform="translate(210.61,970) scale(1,1.04)" font-size="18" text-anchor="middle">600</text>
<line x1="311.53" y1="942.2" x2="311.53" y2="950.5" stroke="#000" stroke-width="1.6"/>
<text transform="translate(311.53,970) scale(1,1.04)" font-size="18" text-anchor="middle">650</text>
<line x1="412.46" y1="942.2" x2="412.46" y2="950.5" stroke="#000" stroke-width="1.6"/>
<text transform="translate(412.46,970) scale(1,1.04)" font-size="18" text-anchor="middle">700</text>
<line x1="513.38" y1="942.2" x2="513.38" y2="950.5" stroke="#000" stroke-width="1.6"/>
<text transform="translate(513.38,970) scale(1,1.04)" font-size="18" text-anchor="middle">750</text>
<line x1="614.31" y1="942.2" x2="614.31" y2="950.5" stroke="#000" stroke-width="1.6"/>
<text transform="translate(614.31,970) scale(1,1.04)" font-size="18" text-anchor="middle">800</text>
<line x1="432" y1="543" x2="482.2" y2="543" stroke="#ED1C24" stroke-width="1.8"/>
<text transform="translate(488.3,550.8) scale(1,1.02)" font-size="22" text-anchor="start">0</text>
<line x1="432" y1="570.05" x2="482.2" y2="570.05" stroke="#245895" stroke-width="1.8"/>
<text transform="translate(488.3,577.85) scale(1,1.02)" font-size="22" text-anchor="start">0.2 µM</text>
<line x1="432" y1="597.1" x2="482.2" y2="597.1" stroke="#FFC000" stroke-width="1.8"/>
<text transform="translate(488.3,604.9) scale(1,1.02)" font-size="22" text-anchor="start">1 µM</text>
<line x1="432" y1="624.15" x2="482.2" y2="624.15" stroke="#20BD5F" stroke-width="1.8"/>
<text transform="translate(488.3,631.95) scale(1,1.02)" font-size="22" text-anchor="start">5 µM</text>
<line x1="432" y1="651.2" x2="482.2" y2="651.2" stroke="#4A4A8C" stroke-width="1.8"/>
<text transform="translate(488.3,659) scale(1,1.02)" font-size="22" text-anchor="start">10 µM</text>
<line x1="432" y1="678.25" x2="482.2" y2="678.25" stroke="#888888" stroke-width="1.8"/>
<text transform="translate(488.3,686.05) scale(1,1.02)" font-size="22" text-anchor="start">20 µM</text>
<line x1="432" y1="705.3" x2="482.2" y2="705.3" stroke="#FF4040" stroke-width="1.8"/>
<text transform="translate(488.3,713.1) scale(1,1.02)" font-size="22" text-anchor="start">30 µM</text>
<line x1="432" y1="732.35" x2="482.2" y2="732.35" stroke="#3F84C4" stroke-width="1.8"/>
<text transform="translate(488.3,740.15) scale(1,1.02)" font-size="22" text-anchor="start">40 µM</text>
<line x1="432" y1="759.4" x2="482.2" y2="759.4" stroke="#C44000" stroke-width="1.8"/>
<text transform="translate(488.3,767.2) scale(1,1.02)" font-size="22" text-anchor="start">60 µM</text>
<line x1="432" y1="786.45" x2="482.2" y2="786.45" stroke="#008B8B" stroke-width="1.8"/>
<text transform="translate(488.3,794.25) scale(1,1.02)" font-size="22" text-anchor="start">80 µM</text>
<line x1="432" y1="813.5" x2="482.2" y2="813.5" stroke="#4F44B0" stroke-width="1.8"/>
<text transform="translate(488.3,821.3) scale(1,1.02)" font-size="22" text-anchor="start">100 µM</text>
<line x1="432" y1="840.55" x2="482.2" y2="840.55" stroke="#8C6E64" stroke-width="1.8"/>
<text transform="translate(488.3,848.35) scale(1,1.02)" font-size="22" text-anchor="start">150 µM</text>
<text transform="translate(33.8,738.6) rotate(-90) scale(1,1.02)" font-size="22" text-anchor="middle">Normalized fluorescence (a.u.)</text>
<text transform="translate(352,1004) scale(1,1.02)" font-size="22" text-anchor="middle">Wavelength (nm)</text>
<text transform="translate(631.2,535) scale(1,1.03)" font-size="48" text-anchor="start">D</text>
<line x1="748.9" y1="911" x2="1211.1" y2="534.9" stroke="#000" stroke-width="1.7"/>
<line x1="749.07" y1="910.5" x2="749.07" y2="920.5" stroke="#000" stroke-width="1.5"/>
<line x1="744.17" y1="910.5" x2="753.97" y2="910.5" stroke="#000" stroke-width="1.7"/>
<line x1="744.17" y1="920.5" x2="753.97" y2="920.5" stroke="#000" stroke-width="1.7"/>
<circle cx="749.07" cy="915.5" r="5.15" fill="#000"/>
<line x1="843.38" y1="819.1" x2="843.38" y2="832.3" stroke="#000" stroke-width="1.5"/>
<line x1="838.48" y1="819.1" x2="848.28" y2="819.1" stroke="#000" stroke-width="1.7"/>
<line x1="838.48" y1="832.3" x2="848.28" y2="832.3" stroke="#000" stroke-width="1.7"/>
<circle cx="843.38" cy="825.7" r="5.15" fill="#000"/>
<line x1="937.69" y1="744.4" x2="937.69" y2="761" stroke="#000" stroke-width="1.5"/>
<line x1="932.79" y1="744.4" x2="942.59" y2="744.4" stroke="#000" stroke-width="1.7"/>
<line x1="932.79" y1="761" x2="942.59" y2="761" stroke="#000" stroke-width="1.7"/>
<circle cx="937.69" cy="752.5" r="5.15" fill="#000"/>
<line x1="992.86" y1="705.5" x2="992.86" y2="725.7" stroke="#000" stroke-width="1.5"/>
<line x1="987.96" y1="705.5" x2="997.76" y2="705.5" stroke="#000" stroke-width="1.7"/>
<line x1="987.96" y1="725.7" x2="997.76" y2="725.7" stroke="#000" stroke-width="1.7"/>
<circle cx="992.86" cy="715.9" r="5.15" fill="#000"/>
<line x1="1032.01" y1="668.6" x2="1032.01" y2="692.5" stroke="#000" stroke-width="1.5"/>
<line x1="1027.11" y1="668.6" x2="1036.91" y2="668.6" stroke="#000" stroke-width="1.7"/>
<line x1="1027.11" y1="692.5" x2="1036.91" y2="692.5" stroke="#000" stroke-width="1.7"/>
<circle cx="1032.01" cy="680.8" r="5.15" fill="#000"/>
<line x1="1087.17" y1="618.8" x2="1087.17" y2="655.4" stroke="#000" stroke-width="1.5"/>
<line x1="1082.27" y1="618.8" x2="1092.07" y2="618.8" stroke="#000" stroke-width="1.7"/>
<line x1="1082.27" y1="655.4" x2="1092.07" y2="655.4" stroke="#000" stroke-width="1.7"/>
<circle cx="1087.17" cy="637.1" r="5.15" fill="#000"/>
<line x1="1126.32" y1="594" x2="1126.32" y2="639.4" stroke="#000" stroke-width="1.5"/>
<line x1="1121.42" y1="594" x2="1131.22" y2="594" stroke="#000" stroke-width="1.7"/>
<line x1="1121.42" y1="639.4" x2="1131.22" y2="639.4" stroke="#000" stroke-width="1.7"/>
<circle cx="1126.32" cy="616.8" r="5.15" fill="#000"/>
<line x1="1156.68" y1="559.1" x2="1156.68" y2="604.3" stroke="#000" stroke-width="1.5"/>
<line x1="1151.78" y1="559.1" x2="1161.58" y2="559.1" stroke="#000" stroke-width="1.7"/>
<line x1="1151.78" y1="604.3" x2="1161.58" y2="604.3" stroke="#000" stroke-width="1.7"/>
<circle cx="1156.68" cy="581.9" r="5.15" fill="#000"/>
<line x1="1211.85" y1="526.25" x2="1211.85" y2="564.2" stroke="#000" stroke-width="1.5"/>
<line x1="1206.95" y1="526.25" x2="1216.75" y2="526.25" stroke="#000" stroke-width="1.7"/>
<line x1="1206.95" y1="564.2" x2="1216.75" y2="564.2" stroke="#000" stroke-width="1.7"/>
<circle cx="1211.85" cy="544.9" r="5.15" fill="#000"/>
<rect x="721" y="516.35" width="529.85" height="426.45" fill="none" stroke="#000" stroke-width="1.85"/>
<line x1="712.7" y1="878.95" x2="721" y2="878.95" stroke="#000" stroke-width="1.6"/>
<text transform="translate(706.5,884.25) scale(1,1.04)" font-size="18" text-anchor="end">0.2</text>
<line x1="712.7" y1="793.64" x2="721" y2="793.64" stroke="#000" stroke-width="1.6"/>
<text transform="translate(706.5,798.94) scale(1,1.04)" font-size="18" text-anchor="end">0.4</text>
<line x1="712.7" y1="708.32" x2="721" y2="708.32" stroke="#000" stroke-width="1.6"/>
<text transform="translate(706.5,713.62) scale(1,1.04)" font-size="18" text-anchor="end">0.6</text>
<line x1="712.7" y1="623.01" x2="721" y2="623.01" stroke="#000" stroke-width="1.6"/>
<text transform="translate(706.5,628.31) scale(1,1.04)" font-size="18" text-anchor="end">0.8</text>
<line x1="712.7" y1="537.7" x2="721" y2="537.7" stroke="#000" stroke-width="1.6"/>
<text transform="translate(706.5,543) scale(1,1.04)" font-size="18" text-anchor="end">1.0</text>
<line x1="812.05" y1="942.8" x2="812.05" y2="951.1" stroke="#000" stroke-width="1.8"/>
<text transform="translate(812.05,971) scale(1,1.04)" font-size="18" text-anchor="middle">0.9</text>
<line x1="906.04" y1="942.8" x2="906.04" y2="951.1" stroke="#000" stroke-width="1.8"/>
<text transform="translate(906.04,971) scale(1,1.04)" font-size="18" text-anchor="middle">1.2</text>
<line x1="1000.03" y1="942.8" x2="1000.03" y2="951.1" stroke="#000" stroke-width="1.8"/>
<text transform="translate(1000.03,971) scale(1,1.04)" font-size="18" text-anchor="middle">1.5</text>
<line x1="1094.02" y1="942.8" x2="1094.02" y2="951.1" stroke="#000" stroke-width="1.8"/>
<text transform="translate(1094.02,971) scale(1,1.04)" font-size="18" text-anchor="middle">1.8</text>
<line x1="1188.01" y1="942.8" x2="1188.01" y2="951.1" stroke="#000" stroke-width="1.8"/>
<text transform="translate(1188.01,971) scale(1,1.04)" font-size="18" text-anchor="middle">2.1</text>
<text transform="translate(661.6,729.6) rotate(-90) scale(1,1.02)" font-size="22.4" text-anchor="middle">Δpeak (a.u.)</text>
<text transform="translate(907.0,1008.4) scale(1,1.02)" font-size="22.4">Log ([Ag<tspan font-size="14" dy="-8.5">+</tspan><tspan dy="8.5">] / µM)</tspan></text>
</svg></body></html>
